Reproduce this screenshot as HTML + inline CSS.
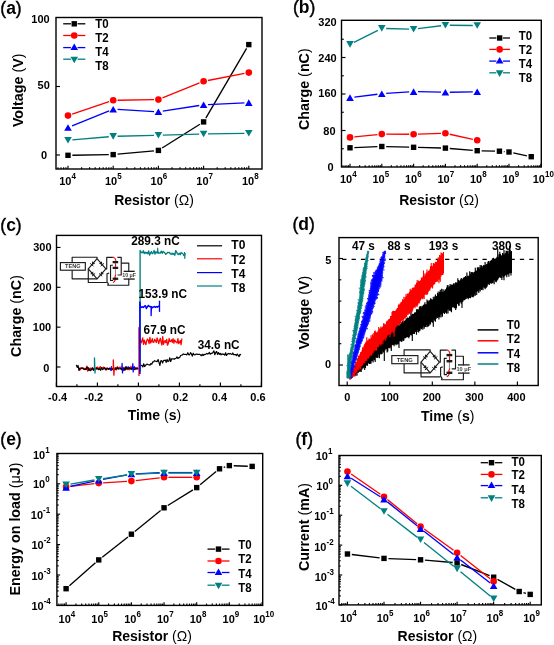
<!DOCTYPE html>
<html><head><meta charset="utf-8"><style>
html,body{margin:0;padding:0;background:#fff;width:554px;height:645px;overflow:hidden}
svg{display:block;filter:blur(0.35px)}
</style></head><body>
<svg width="554" height="645" viewBox="0 0 554 645">
<rect x="0" y="0" width="554" height="645" fill="#fff"/>
<text transform="translate(0.3,13.5) scale(1,1.0)" font-size="17.5" text-anchor="start" font-family="Liberation Sans" font-weight="bold" ><tspan font-weight="normal" stroke="#000" stroke-width="0.4">(</tspan>a<tspan font-weight="normal" stroke="#000" stroke-width="0.4">)</tspan></text>
<line x1="57.97" y1="169" x2="57.97" y2="167.2" stroke="#000" stroke-width="1.15"/>
<line x1="61" y1="169" x2="61" y2="167.2" stroke="#000" stroke-width="1.15"/>
<line x1="63.62" y1="169" x2="63.62" y2="167.2" stroke="#000" stroke-width="1.15"/>
<line x1="65.93" y1="169" x2="65.93" y2="167.2" stroke="#000" stroke-width="1.15"/>
<line x1="68" y1="169" x2="68" y2="165.8" stroke="#000" stroke-width="1.15"/>
<line x1="81.61" y1="169" x2="81.61" y2="167.2" stroke="#000" stroke-width="1.15"/>
<line x1="89.57" y1="169" x2="89.57" y2="167.2" stroke="#000" stroke-width="1.15"/>
<line x1="95.21" y1="169" x2="95.21" y2="167.2" stroke="#000" stroke-width="1.15"/>
<line x1="99.59" y1="169" x2="99.59" y2="167.2" stroke="#000" stroke-width="1.15"/>
<line x1="103.17" y1="169" x2="103.17" y2="167.2" stroke="#000" stroke-width="1.15"/>
<line x1="106.2" y1="169" x2="106.2" y2="167.2" stroke="#000" stroke-width="1.15"/>
<line x1="108.82" y1="169" x2="108.82" y2="167.2" stroke="#000" stroke-width="1.15"/>
<line x1="111.13" y1="169" x2="111.13" y2="167.2" stroke="#000" stroke-width="1.15"/>
<line x1="113.2" y1="169" x2="113.2" y2="165.8" stroke="#000" stroke-width="1.15"/>
<line x1="126.81" y1="169" x2="126.81" y2="167.2" stroke="#000" stroke-width="1.15"/>
<line x1="134.77" y1="169" x2="134.77" y2="167.2" stroke="#000" stroke-width="1.15"/>
<line x1="140.41" y1="169" x2="140.41" y2="167.2" stroke="#000" stroke-width="1.15"/>
<line x1="144.79" y1="169" x2="144.79" y2="167.2" stroke="#000" stroke-width="1.15"/>
<line x1="148.37" y1="169" x2="148.37" y2="167.2" stroke="#000" stroke-width="1.15"/>
<line x1="151.4" y1="169" x2="151.4" y2="167.2" stroke="#000" stroke-width="1.15"/>
<line x1="154.02" y1="169" x2="154.02" y2="167.2" stroke="#000" stroke-width="1.15"/>
<line x1="156.33" y1="169" x2="156.33" y2="167.2" stroke="#000" stroke-width="1.15"/>
<line x1="158.4" y1="169" x2="158.4" y2="165.8" stroke="#000" stroke-width="1.15"/>
<line x1="172.01" y1="169" x2="172.01" y2="167.2" stroke="#000" stroke-width="1.15"/>
<line x1="179.97" y1="169" x2="179.97" y2="167.2" stroke="#000" stroke-width="1.15"/>
<line x1="185.61" y1="169" x2="185.61" y2="167.2" stroke="#000" stroke-width="1.15"/>
<line x1="189.99" y1="169" x2="189.99" y2="167.2" stroke="#000" stroke-width="1.15"/>
<line x1="193.57" y1="169" x2="193.57" y2="167.2" stroke="#000" stroke-width="1.15"/>
<line x1="196.6" y1="169" x2="196.6" y2="167.2" stroke="#000" stroke-width="1.15"/>
<line x1="199.22" y1="169" x2="199.22" y2="167.2" stroke="#000" stroke-width="1.15"/>
<line x1="201.53" y1="169" x2="201.53" y2="167.2" stroke="#000" stroke-width="1.15"/>
<line x1="203.6" y1="169" x2="203.6" y2="165.8" stroke="#000" stroke-width="1.15"/>
<line x1="217.21" y1="169" x2="217.21" y2="167.2" stroke="#000" stroke-width="1.15"/>
<line x1="225.17" y1="169" x2="225.17" y2="167.2" stroke="#000" stroke-width="1.15"/>
<line x1="230.81" y1="169" x2="230.81" y2="167.2" stroke="#000" stroke-width="1.15"/>
<line x1="235.19" y1="169" x2="235.19" y2="167.2" stroke="#000" stroke-width="1.15"/>
<line x1="238.77" y1="169" x2="238.77" y2="167.2" stroke="#000" stroke-width="1.15"/>
<line x1="241.8" y1="169" x2="241.8" y2="167.2" stroke="#000" stroke-width="1.15"/>
<line x1="244.42" y1="169" x2="244.42" y2="167.2" stroke="#000" stroke-width="1.15"/>
<line x1="246.73" y1="169" x2="246.73" y2="167.2" stroke="#000" stroke-width="1.15"/>
<line x1="248.8" y1="169" x2="248.8" y2="165.8" stroke="#000" stroke-width="1.15"/>
<line x1="56" y1="155" x2="60" y2="155" stroke="#000" stroke-width="1.15"/>
<line x1="56" y1="86.5" x2="60" y2="86.5" stroke="#000" stroke-width="1.15"/>
<rect x="56" y="17.5" width="206" height="151.5" fill="none" stroke="#000" stroke-width="1.4"/>
<text transform="translate(40.5,23.01) scale(1,1.06)" font-size="11" text-anchor="middle" font-family="Liberation Sans" font-weight="bold" >100</text>
<text transform="translate(43.7,88.71) scale(1,1.06)" font-size="11" text-anchor="middle" font-family="Liberation Sans" font-weight="bold" >50</text>
<text transform="translate(44,158.71) scale(1,1.06)" font-size="11" text-anchor="middle" font-family="Liberation Sans" font-weight="bold" >0</text>
<text transform="translate(67.6,185.3) scale(1,1.06)" font-size="11" text-anchor="middle" font-family="Liberation Sans" font-weight="bold">10<tspan font-size="8" dy="-5.6">4</tspan></text>
<text transform="translate(113.27,185.3) scale(1,1.06)" font-size="11" text-anchor="middle" font-family="Liberation Sans" font-weight="bold">10<tspan font-size="8" dy="-5.6">5</tspan></text>
<text transform="translate(158.94,185.3) scale(1,1.06)" font-size="11" text-anchor="middle" font-family="Liberation Sans" font-weight="bold">10<tspan font-size="8" dy="-5.6">6</tspan></text>
<text transform="translate(204.61,185.3) scale(1,1.06)" font-size="11" text-anchor="middle" font-family="Liberation Sans" font-weight="bold">10<tspan font-size="8" dy="-5.6">7</tspan></text>
<text transform="translate(250.28,185.3) scale(1,1.06)" font-size="11" text-anchor="middle" font-family="Liberation Sans" font-weight="bold">10<tspan font-size="8" dy="-5.6">8</tspan></text>
<text transform="translate(154,204.7) scale(1,1.0)" font-size="14" text-anchor="middle" font-family="Liberation Sans" font-weight="bold" >Resistor <tspan font-weight="normal">(</tspan><tspan font-weight="normal">Ω</tspan><tspan font-weight="normal">)</tspan></text>
<text transform="translate(23.4,90.3) rotate(-90)" x="0" y="0" font-size="14.3" text-anchor="middle" font-family="Liberation Sans" font-weight="bold">Voltage <tspan font-weight="normal">(</tspan>V<tspan font-weight="normal">)</tspan></text>
<line x1="72.4" y1="155.23" x2="108.8" y2="154.67" stroke="#000" stroke-width="1.35"/>
<line x1="117.58" y1="154.19" x2="154.02" y2="150.81" stroke="#000" stroke-width="1.35"/>
<line x1="162.12" y1="148.05" x2="199.88" y2="124.25" stroke="#000" stroke-width="1.35"/>
<line x1="205.82" y1="118.1" x2="246.58" y2="48.4" stroke="#000" stroke-width="1.35"/>
<rect x="65.3" y="152.6" width="5.4" height="5.4" fill="#000"/>
<rect x="110.5" y="151.9" width="5.4" height="5.4" fill="#000"/>
<rect x="155.7" y="147.7" width="5.4" height="5.4" fill="#000"/>
<rect x="200.9" y="119.2" width="5.4" height="5.4" fill="#000"/>
<rect x="246.1" y="41.9" width="5.4" height="5.4" fill="#000"/>
<line x1="72.17" y1="114.19" x2="109.03" y2="101.71" stroke="#ff0000" stroke-width="1.35"/>
<line x1="117.6" y1="100.23" x2="154" y2="99.67" stroke="#ff0000" stroke-width="1.35"/>
<line x1="162.48" y1="97.95" x2="199.52" y2="82.95" stroke="#ff0000" stroke-width="1.35"/>
<line x1="207.92" y1="80.47" x2="244.48" y2="73.43" stroke="#ff0000" stroke-width="1.35"/>
<circle cx="68" cy="115.6" r="3.3" fill="#ff0000"/>
<circle cx="113.2" cy="100.3" r="3.3" fill="#ff0000"/>
<circle cx="158.4" cy="99.6" r="3.3" fill="#ff0000"/>
<circle cx="203.6" cy="81.3" r="3.3" fill="#ff0000"/>
<circle cx="248.8" cy="72.6" r="3.3" fill="#ff0000"/>
<line x1="72.08" y1="125.85" x2="109.12" y2="110.85" stroke="#0000ff" stroke-width="1.35"/>
<line x1="117.59" y1="109.45" x2="154.01" y2="111.55" stroke="#0000ff" stroke-width="1.35"/>
<line x1="162.75" y1="111.13" x2="199.25" y2="105.47" stroke="#0000ff" stroke-width="1.35"/>
<line x1="207.99" y1="104.59" x2="244.41" y2="102.81" stroke="#0000ff" stroke-width="1.35"/>
<polygon points="64.2,130.8 71.8,130.8 68,124.2" fill="#0000ff" stroke="none"/>
<polygon points="109.4,112.5 117,112.5 113.2,105.9" fill="#0000ff" stroke="none"/>
<polygon points="154.6,115.1 162.2,115.1 158.4,108.5" fill="#0000ff" stroke="none"/>
<polygon points="199.8,108.1 207.4,108.1 203.6,101.5" fill="#0000ff" stroke="none"/>
<polygon points="245,105.9 252.6,105.9 248.8,99.3" fill="#0000ff" stroke="none"/>
<line x1="72.38" y1="139.92" x2="108.82" y2="136.78" stroke="#008080" stroke-width="1.35"/>
<line x1="117.6" y1="136.28" x2="154" y2="135.32" stroke="#008080" stroke-width="1.35"/>
<line x1="162.8" y1="135.08" x2="199.2" y2="134.12" stroke="#008080" stroke-width="1.35"/>
<line x1="208" y1="133.93" x2="244.4" y2="133.37" stroke="#008080" stroke-width="1.35"/>
<polygon points="64.2,137 71.8,137 68,143.6" fill="#008080" stroke="none"/>
<polygon points="109.4,133.1 117,133.1 113.2,139.7" fill="#008080" stroke="none"/>
<polygon points="154.6,131.9 162.2,131.9 158.4,138.5" fill="#008080" stroke="none"/>
<polygon points="199.8,130.7 207.4,130.7 203.6,137.3" fill="#008080" stroke="none"/>
<polygon points="245,130 252.6,130 248.8,136.6" fill="#008080" stroke="none"/>
<line x1="63.2" y1="23.8" x2="70.95" y2="23.8" stroke="#000" stroke-width="1.3"/>
<line x1="77.55" y1="23.8" x2="85.3" y2="23.8" stroke="#000" stroke-width="1.3"/>
<rect x="71.55" y="21.1" width="5.4" height="5.4" fill="#000"/>
<text transform="translate(95.2,27.74) scale(1,1.06)" font-size="11.5" text-anchor="start" font-family="Liberation Sans" font-weight="bold" >T0</text>
<line x1="63.2" y1="35.5" x2="70.95" y2="35.5" stroke="#ff0000" stroke-width="1.3"/>
<line x1="77.55" y1="35.5" x2="85.3" y2="35.5" stroke="#ff0000" stroke-width="1.3"/>
<circle cx="74.25" cy="35.5" r="3.3" fill="#ff0000"/>
<text transform="translate(95.2,42.04) scale(1,1.06)" font-size="11.5" text-anchor="start" font-family="Liberation Sans" font-weight="bold" >T2</text>
<line x1="63.2" y1="47.6" x2="70.95" y2="47.6" stroke="#0000ff" stroke-width="1.3"/>
<line x1="77.55" y1="47.6" x2="85.3" y2="47.6" stroke="#0000ff" stroke-width="1.3"/>
<polygon points="70.45,50.1 78.05,50.1 74.25,43.5" fill="#0000ff" stroke="none"/>
<text transform="translate(95.2,56.34) scale(1,1.06)" font-size="11.5" text-anchor="start" font-family="Liberation Sans" font-weight="bold" >T4</text>
<line x1="63.2" y1="59.2" x2="70.95" y2="59.2" stroke="#008080" stroke-width="1.3"/>
<line x1="77.55" y1="59.2" x2="85.3" y2="59.2" stroke="#008080" stroke-width="1.3"/>
<polygon points="70.45,56.7 78.05,56.7 74.25,63.3" fill="#008080" stroke="none"/>
<text transform="translate(95.2,70.34) scale(1,1.06)" font-size="11.5" text-anchor="start" font-family="Liberation Sans" font-weight="bold" >T8</text>
<text transform="translate(293,13.3) scale(1,1.0)" font-size="17.5" text-anchor="start" font-family="Liberation Sans" font-weight="bold" ><tspan font-weight="normal" stroke="#000" stroke-width="0.4">(</tspan>b<tspan font-weight="normal" stroke="#000" stroke-width="0.4">)</tspan></text>
<line x1="342.95" y1="167" x2="342.95" y2="165.2" stroke="#000" stroke-width="1.15"/>
<line x1="345.07" y1="167" x2="345.07" y2="165.2" stroke="#000" stroke-width="1.15"/>
<line x1="346.92" y1="167" x2="346.92" y2="165.2" stroke="#000" stroke-width="1.15"/>
<line x1="348.54" y1="167" x2="348.54" y2="165.2" stroke="#000" stroke-width="1.15"/>
<line x1="350" y1="167" x2="350" y2="163.8" stroke="#000" stroke-width="1.15"/>
<line x1="359.57" y1="167" x2="359.57" y2="165.2" stroke="#000" stroke-width="1.15"/>
<line x1="365.17" y1="167" x2="365.17" y2="165.2" stroke="#000" stroke-width="1.15"/>
<line x1="369.15" y1="167" x2="369.15" y2="165.2" stroke="#000" stroke-width="1.15"/>
<line x1="372.23" y1="167" x2="372.23" y2="165.2" stroke="#000" stroke-width="1.15"/>
<line x1="374.75" y1="167" x2="374.75" y2="165.2" stroke="#000" stroke-width="1.15"/>
<line x1="376.87" y1="167" x2="376.87" y2="165.2" stroke="#000" stroke-width="1.15"/>
<line x1="378.72" y1="167" x2="378.72" y2="165.2" stroke="#000" stroke-width="1.15"/>
<line x1="380.34" y1="167" x2="380.34" y2="165.2" stroke="#000" stroke-width="1.15"/>
<line x1="381.8" y1="167" x2="381.8" y2="163.8" stroke="#000" stroke-width="1.15"/>
<line x1="391.37" y1="167" x2="391.37" y2="165.2" stroke="#000" stroke-width="1.15"/>
<line x1="396.97" y1="167" x2="396.97" y2="165.2" stroke="#000" stroke-width="1.15"/>
<line x1="400.95" y1="167" x2="400.95" y2="165.2" stroke="#000" stroke-width="1.15"/>
<line x1="404.03" y1="167" x2="404.03" y2="165.2" stroke="#000" stroke-width="1.15"/>
<line x1="406.55" y1="167" x2="406.55" y2="165.2" stroke="#000" stroke-width="1.15"/>
<line x1="408.67" y1="167" x2="408.67" y2="165.2" stroke="#000" stroke-width="1.15"/>
<line x1="410.52" y1="167" x2="410.52" y2="165.2" stroke="#000" stroke-width="1.15"/>
<line x1="412.14" y1="167" x2="412.14" y2="165.2" stroke="#000" stroke-width="1.15"/>
<line x1="413.6" y1="167" x2="413.6" y2="163.8" stroke="#000" stroke-width="1.15"/>
<line x1="423.17" y1="167" x2="423.17" y2="165.2" stroke="#000" stroke-width="1.15"/>
<line x1="428.77" y1="167" x2="428.77" y2="165.2" stroke="#000" stroke-width="1.15"/>
<line x1="432.75" y1="167" x2="432.75" y2="165.2" stroke="#000" stroke-width="1.15"/>
<line x1="435.83" y1="167" x2="435.83" y2="165.2" stroke="#000" stroke-width="1.15"/>
<line x1="438.35" y1="167" x2="438.35" y2="165.2" stroke="#000" stroke-width="1.15"/>
<line x1="440.47" y1="167" x2="440.47" y2="165.2" stroke="#000" stroke-width="1.15"/>
<line x1="442.32" y1="167" x2="442.32" y2="165.2" stroke="#000" stroke-width="1.15"/>
<line x1="443.94" y1="167" x2="443.94" y2="165.2" stroke="#000" stroke-width="1.15"/>
<line x1="445.4" y1="167" x2="445.4" y2="163.8" stroke="#000" stroke-width="1.15"/>
<line x1="454.97" y1="167" x2="454.97" y2="165.2" stroke="#000" stroke-width="1.15"/>
<line x1="460.57" y1="167" x2="460.57" y2="165.2" stroke="#000" stroke-width="1.15"/>
<line x1="464.55" y1="167" x2="464.55" y2="165.2" stroke="#000" stroke-width="1.15"/>
<line x1="467.63" y1="167" x2="467.63" y2="165.2" stroke="#000" stroke-width="1.15"/>
<line x1="470.15" y1="167" x2="470.15" y2="165.2" stroke="#000" stroke-width="1.15"/>
<line x1="472.27" y1="167" x2="472.27" y2="165.2" stroke="#000" stroke-width="1.15"/>
<line x1="474.12" y1="167" x2="474.12" y2="165.2" stroke="#000" stroke-width="1.15"/>
<line x1="475.74" y1="167" x2="475.74" y2="165.2" stroke="#000" stroke-width="1.15"/>
<line x1="477.2" y1="167" x2="477.2" y2="163.8" stroke="#000" stroke-width="1.15"/>
<line x1="486.77" y1="167" x2="486.77" y2="165.2" stroke="#000" stroke-width="1.15"/>
<line x1="492.37" y1="167" x2="492.37" y2="165.2" stroke="#000" stroke-width="1.15"/>
<line x1="496.35" y1="167" x2="496.35" y2="165.2" stroke="#000" stroke-width="1.15"/>
<line x1="499.43" y1="167" x2="499.43" y2="165.2" stroke="#000" stroke-width="1.15"/>
<line x1="501.95" y1="167" x2="501.95" y2="165.2" stroke="#000" stroke-width="1.15"/>
<line x1="504.07" y1="167" x2="504.07" y2="165.2" stroke="#000" stroke-width="1.15"/>
<line x1="505.92" y1="167" x2="505.92" y2="165.2" stroke="#000" stroke-width="1.15"/>
<line x1="507.54" y1="167" x2="507.54" y2="165.2" stroke="#000" stroke-width="1.15"/>
<line x1="509" y1="167" x2="509" y2="163.8" stroke="#000" stroke-width="1.15"/>
<line x1="518.57" y1="167" x2="518.57" y2="165.2" stroke="#000" stroke-width="1.15"/>
<line x1="524.17" y1="167" x2="524.17" y2="165.2" stroke="#000" stroke-width="1.15"/>
<line x1="528.15" y1="167" x2="528.15" y2="165.2" stroke="#000" stroke-width="1.15"/>
<line x1="531.23" y1="167" x2="531.23" y2="165.2" stroke="#000" stroke-width="1.15"/>
<line x1="533.75" y1="167" x2="533.75" y2="165.2" stroke="#000" stroke-width="1.15"/>
<line x1="535.87" y1="167" x2="535.87" y2="165.2" stroke="#000" stroke-width="1.15"/>
<line x1="537.72" y1="167" x2="537.72" y2="165.2" stroke="#000" stroke-width="1.15"/>
<line x1="539.34" y1="167" x2="539.34" y2="165.2" stroke="#000" stroke-width="1.15"/>
<line x1="540.8" y1="167" x2="540.8" y2="163.8" stroke="#000" stroke-width="1.15"/>
<line x1="341.5" y1="130.5" x2="345.5" y2="130.5" stroke="#000" stroke-width="1.15"/>
<line x1="341.5" y1="94" x2="345.5" y2="94" stroke="#000" stroke-width="1.15"/>
<line x1="341.5" y1="57.5" x2="345.5" y2="57.5" stroke="#000" stroke-width="1.15"/>
<line x1="341.5" y1="148.75" x2="343.8" y2="148.75" stroke="#000" stroke-width="1.15"/>
<line x1="341.5" y1="112.25" x2="343.8" y2="112.25" stroke="#000" stroke-width="1.15"/>
<line x1="341.5" y1="75.75" x2="343.8" y2="75.75" stroke="#000" stroke-width="1.15"/>
<line x1="341.5" y1="39.25" x2="343.8" y2="39.25" stroke="#000" stroke-width="1.15"/>
<rect x="341.5" y="20.3" width="199.8" height="146.7" fill="none" stroke="#000" stroke-width="1.4"/>
<text transform="translate(327.5,25.96) scale(1,1.06)" font-size="11" text-anchor="middle" font-family="Liberation Sans" font-weight="bold" >320</text>
<text transform="translate(327.5,61.76) scale(1,1.06)" font-size="11" text-anchor="middle" font-family="Liberation Sans" font-weight="bold" >240</text>
<text transform="translate(327.5,97.16) scale(1,1.06)" font-size="11" text-anchor="middle" font-family="Liberation Sans" font-weight="bold" >160</text>
<text transform="translate(329.4,135.16) scale(1,1.06)" font-size="11" text-anchor="middle" font-family="Liberation Sans" font-weight="bold" >80</text>
<text transform="translate(330.5,170.66) scale(1,1.06)" font-size="11" text-anchor="middle" font-family="Liberation Sans" font-weight="bold" >0</text>
<text transform="translate(348.3,183.3) scale(1,1.06)" font-size="11" text-anchor="middle" font-family="Liberation Sans" font-weight="bold">10<tspan font-size="8" dy="-5.6">4</tspan></text>
<text transform="translate(380.8,183.3) scale(1,1.06)" font-size="11" text-anchor="middle" font-family="Liberation Sans" font-weight="bold">10<tspan font-size="8" dy="-5.6">5</tspan></text>
<text transform="translate(413.3,183.3) scale(1,1.06)" font-size="11" text-anchor="middle" font-family="Liberation Sans" font-weight="bold">10<tspan font-size="8" dy="-5.6">6</tspan></text>
<text transform="translate(445.8,183.3) scale(1,1.06)" font-size="11" text-anchor="middle" font-family="Liberation Sans" font-weight="bold">10<tspan font-size="8" dy="-5.6">7</tspan></text>
<text transform="translate(478.3,183.3) scale(1,1.06)" font-size="11" text-anchor="middle" font-family="Liberation Sans" font-weight="bold">10<tspan font-size="8" dy="-5.6">8</tspan></text>
<text transform="translate(510.8,183.3) scale(1,1.06)" font-size="11" text-anchor="middle" font-family="Liberation Sans" font-weight="bold">10<tspan font-size="8" dy="-5.6">9</tspan></text>
<text transform="translate(543.3,183.3) scale(1,1.06)" font-size="11" text-anchor="middle" font-family="Liberation Sans" font-weight="bold">10<tspan font-size="8" dy="-5.6">10</tspan></text>
<text transform="translate(439,204.7) scale(1,1.0)" font-size="14" text-anchor="middle" font-family="Liberation Sans" font-weight="bold" >Resistor <tspan font-weight="normal">(</tspan><tspan font-weight="normal">Ω</tspan><tspan font-weight="normal">)</tspan></text>
<text transform="translate(308.9,89.2) rotate(-90)" x="0" y="0" font-size="14.3" text-anchor="middle" font-family="Liberation Sans" font-weight="bold">Charge <tspan font-weight="normal">(</tspan>nC<tspan font-weight="normal">)</tspan></text>
<line x1="353.93" y1="42.42" x2="377.87" y2="30.38" stroke="#008080" stroke-width="1.35"/>
<line x1="386.2" y1="28.51" x2="409.2" y2="29.09" stroke="#008080" stroke-width="1.35"/>
<line x1="417.97" y1="28.65" x2="441.03" y2="25.75" stroke="#008080" stroke-width="1.35"/>
<line x1="449.8" y1="25.24" x2="472.8" y2="25.46" stroke="#008080" stroke-width="1.35"/>
<polygon points="346.2,41.1 353.8,41.1 350,47.7" fill="#008080" stroke="none"/>
<polygon points="378,25.1 385.6,25.1 381.8,31.7" fill="#008080" stroke="none"/>
<polygon points="409.8,25.9 417.4,25.9 413.6,32.5" fill="#008080" stroke="none"/>
<polygon points="441.6,21.9 449.2,21.9 445.4,28.5" fill="#008080" stroke="none"/>
<polygon points="473.4,22.2 481,22.2 477.2,28.8" fill="#008080" stroke="none"/>
<line x1="354.37" y1="97.06" x2="377.43" y2="94.24" stroke="#0000ff" stroke-width="1.35"/>
<line x1="386.19" y1="93.41" x2="409.21" y2="91.89" stroke="#0000ff" stroke-width="1.35"/>
<line x1="418" y1="91.7" x2="441" y2="92.2" stroke="#0000ff" stroke-width="1.35"/>
<line x1="449.8" y1="92.23" x2="472.8" y2="91.87" stroke="#0000ff" stroke-width="1.35"/>
<polygon points="346.2,100.9 353.8,100.9 350,94.3" fill="#0000ff" stroke="none"/>
<polygon points="378,97 385.6,97 381.8,90.4" fill="#0000ff" stroke="none"/>
<polygon points="409.8,94.9 417.4,94.9 413.6,88.3" fill="#0000ff" stroke="none"/>
<polygon points="441.6,95.6 449.2,95.6 445.4,89" fill="#0000ff" stroke="none"/>
<polygon points="473.4,95.1 481,95.1 477.2,88.5" fill="#0000ff" stroke="none"/>
<line x1="354.38" y1="136.95" x2="377.42" y2="134.55" stroke="#ff0000" stroke-width="1.35"/>
<line x1="386.2" y1="134.13" x2="409.2" y2="134.27" stroke="#ff0000" stroke-width="1.35"/>
<line x1="418" y1="134.16" x2="441" y2="133.44" stroke="#ff0000" stroke-width="1.35"/>
<line x1="449.7" y1="134.25" x2="472.9" y2="139.35" stroke="#ff0000" stroke-width="1.35"/>
<circle cx="350" cy="137.4" r="3.3" fill="#ff0000"/>
<circle cx="381.8" cy="134.1" r="3.3" fill="#ff0000"/>
<circle cx="413.6" cy="134.3" r="3.3" fill="#ff0000"/>
<circle cx="445.4" cy="133.3" r="3.3" fill="#ff0000"/>
<circle cx="477.2" cy="140.3" r="3.3" fill="#ff0000"/>
<line x1="354.4" y1="147.62" x2="377.4" y2="146.68" stroke="#000" stroke-width="1.35"/>
<line x1="386.2" y1="146.61" x2="409.2" y2="147.19" stroke="#000" stroke-width="1.35"/>
<line x1="418" y1="147.41" x2="441" y2="147.99" stroke="#000" stroke-width="1.35"/>
<line x1="449.79" y1="148.46" x2="472.81" y2="150.34" stroke="#000" stroke-width="1.35"/>
<line x1="481.6" y1="150.8" x2="495.03" y2="151.1" stroke="#000" stroke-width="1.35"/>
<line x1="503.81" y1="151.57" x2="504.62" y2="151.63" stroke="#000" stroke-width="1.35"/>
<line x1="513.3" y1="152.91" x2="526.92" y2="155.79" stroke="#000" stroke-width="1.35"/>
<rect x="347.3" y="145.1" width="5.4" height="5.4" fill="#000"/>
<rect x="379.1" y="143.8" width="5.4" height="5.4" fill="#000"/>
<rect x="410.9" y="144.6" width="5.4" height="5.4" fill="#000"/>
<rect x="442.7" y="145.4" width="5.4" height="5.4" fill="#000"/>
<rect x="474.5" y="148" width="5.4" height="5.4" fill="#000"/>
<rect x="496.73" y="148.5" width="5.4" height="5.4" fill="#000"/>
<rect x="506.3" y="149.3" width="5.4" height="5.4" fill="#000"/>
<rect x="528.53" y="154" width="5.4" height="5.4" fill="#000"/>
<line x1="489.3" y1="38" x2="496.35" y2="38" stroke="#000" stroke-width="1.3"/>
<line x1="502.95" y1="38" x2="510" y2="38" stroke="#000" stroke-width="1.3"/>
<rect x="496.95" y="35.3" width="5.4" height="5.4" fill="#000"/>
<text transform="translate(518.7,39.74) scale(1,1.06)" font-size="11.5" text-anchor="start" font-family="Liberation Sans" font-weight="bold" >T0</text>
<line x1="489.3" y1="49.4" x2="496.35" y2="49.4" stroke="#ff0000" stroke-width="1.3"/>
<line x1="502.95" y1="49.4" x2="510" y2="49.4" stroke="#ff0000" stroke-width="1.3"/>
<circle cx="499.65" cy="49.4" r="3.3" fill="#ff0000"/>
<text transform="translate(518.7,54.04) scale(1,1.06)" font-size="11.5" text-anchor="start" font-family="Liberation Sans" font-weight="bold" >T2</text>
<line x1="489.3" y1="61.1" x2="496.35" y2="61.1" stroke="#0000ff" stroke-width="1.3"/>
<line x1="502.95" y1="61.1" x2="510" y2="61.1" stroke="#0000ff" stroke-width="1.3"/>
<polygon points="495.85,63.6 503.45,63.6 499.65,57" fill="#0000ff" stroke="none"/>
<text transform="translate(518.7,68.14) scale(1,1.06)" font-size="11.5" text-anchor="start" font-family="Liberation Sans" font-weight="bold" >T4</text>
<line x1="489.3" y1="72.8" x2="496.35" y2="72.8" stroke="#008080" stroke-width="1.3"/>
<line x1="502.95" y1="72.8" x2="510" y2="72.8" stroke="#008080" stroke-width="1.3"/>
<polygon points="495.85,70.3 503.45,70.3 499.65,76.9" fill="#008080" stroke="none"/>
<text transform="translate(518.7,82.14) scale(1,1.06)" font-size="11.5" text-anchor="start" font-family="Liberation Sans" font-weight="bold" >T8</text>
<text transform="translate(0.3,230.5) scale(1,1.0)" font-size="17.5" text-anchor="start" font-family="Liberation Sans" font-weight="bold" ><tspan font-weight="normal" stroke="#000" stroke-width="0.4">(</tspan>c<tspan font-weight="normal" stroke="#000" stroke-width="0.4">)</tspan></text>
<rect x="56.5" y="235.4" width="205" height="151.1" fill="none" stroke="#000" stroke-width="1.4"/>
<line x1="56.5" y1="367" x2="60.5" y2="367" stroke="#000" stroke-width="1.15"/>
<line x1="56.5" y1="327.15" x2="60.5" y2="327.15" stroke="#000" stroke-width="1.15"/>
<line x1="56.5" y1="287.3" x2="60.5" y2="287.3" stroke="#000" stroke-width="1.15"/>
<line x1="56.5" y1="247.45" x2="60.5" y2="247.45" stroke="#000" stroke-width="1.15"/>
<line x1="56.4" y1="386.5" x2="56.4" y2="382.5" stroke="#000" stroke-width="1.15"/>
<line x1="97.4" y1="386.5" x2="97.4" y2="382.5" stroke="#000" stroke-width="1.15"/>
<line x1="138.4" y1="386.5" x2="138.4" y2="382.5" stroke="#000" stroke-width="1.15"/>
<line x1="179.4" y1="386.5" x2="179.4" y2="382.5" stroke="#000" stroke-width="1.15"/>
<line x1="220.4" y1="386.5" x2="220.4" y2="382.5" stroke="#000" stroke-width="1.15"/>
<line x1="261.4" y1="386.5" x2="261.4" y2="382.5" stroke="#000" stroke-width="1.15"/>
<line x1="76.9" y1="386.5" x2="76.9" y2="384.2" stroke="#000" stroke-width="1.15"/>
<line x1="117.9" y1="386.5" x2="117.9" y2="384.2" stroke="#000" stroke-width="1.15"/>
<line x1="158.9" y1="386.5" x2="158.9" y2="384.2" stroke="#000" stroke-width="1.15"/>
<line x1="199.9" y1="386.5" x2="199.9" y2="384.2" stroke="#000" stroke-width="1.15"/>
<line x1="240.9" y1="386.5" x2="240.9" y2="384.2" stroke="#000" stroke-width="1.15"/>
<text transform="translate(42.4,251.06) scale(1,1.06)" font-size="11" text-anchor="middle" font-family="Liberation Sans" font-weight="bold" >300</text>
<text transform="translate(42.4,290.86) scale(1,1.06)" font-size="11" text-anchor="middle" font-family="Liberation Sans" font-weight="bold" >200</text>
<text transform="translate(42,331.06) scale(1,1.06)" font-size="11" text-anchor="middle" font-family="Liberation Sans" font-weight="bold" >100</text>
<text transform="translate(46.4,371.96) scale(1,1.06)" font-size="11" text-anchor="middle" font-family="Liberation Sans" font-weight="bold" >0</text>
<text transform="translate(57.6,400.76) scale(1,1.06)" font-size="11" text-anchor="middle" font-family="Liberation Sans" font-weight="bold" >-0.4</text>
<text transform="translate(93.7,400.76) scale(1,1.06)" font-size="11" text-anchor="middle" font-family="Liberation Sans" font-weight="bold" >-0.2</text>
<text transform="translate(138.7,400.76) scale(1,1.06)" font-size="11" text-anchor="middle" font-family="Liberation Sans" font-weight="bold" >0</text>
<text transform="translate(180.5,400.76) scale(1,1.06)" font-size="11" text-anchor="middle" font-family="Liberation Sans" font-weight="bold" >0.2</text>
<text transform="translate(219.4,400.76) scale(1,1.06)" font-size="11" text-anchor="middle" font-family="Liberation Sans" font-weight="bold" >0.4</text>
<text transform="translate(258,400.76) scale(1,1.06)" font-size="11" text-anchor="middle" font-family="Liberation Sans" font-weight="bold" >0.6</text>
<text transform="translate(154.4,420.3) scale(1,1.0)" font-size="14" text-anchor="middle" font-family="Liberation Sans" font-weight="bold" >Time <tspan font-weight="normal">(</tspan>s<tspan font-weight="normal">)</tspan></text>
<text transform="translate(20.6,316) rotate(-90)" x="0" y="0" font-size="14.3" text-anchor="middle" font-family="Liberation Sans" font-weight="bold">Charge <tspan font-weight="normal">(</tspan>nC<tspan font-weight="normal">)</tspan></text>
<polyline points="78.7,368.64 79.6,370.15 80.5,369.54 81.4,367.73 82.3,368.52 83.2,368.02 84.1,369.43 85,368.29 85.9,369.55 86.8,366.19 87.7,371.12 88.6,367.73 89.5,369.64 90.4,368.13 91.3,368.31 92.2,369.22 93.1,369.36 94,368.14 94.9,368.56 95.8,369.4 96.7,367.36 97.6,367.23 98.5,369.46 99.4,367.57 100.3,366.7 101.2,368.23 102.1,368.17 103,367.36 103.9,367.26 104.8,369.04 105.7,369.5 106.6,368.06 107.5,367.91 108.4,369.25 109.3,369.23 110.2,368.07 111.1,369.39 112,369.56 112.9,368.07 113.8,367.82 114.7,369.23 115.6,368.69 116.5,369.83 117.4,366.75 118.3,368.39 119.2,367.7 120.1,366.88 121,369.26 121.9,369.01 122.8,367.63 123.7,370.48 124.6,368.98 125.5,369.21 126.4,368.88 127.3,369.61 128.2,366.76 129.1,369.86 130,368.92 130.9,366.47 131.8,369.64 132.7,368 133.6,369.68 134.5,367.77 135.4,368.83 136.3,368.93 137.2,367.49 138.1,369.62" fill="none" stroke="#ff0000" stroke-width="1.3" stroke-linejoin="round" />
<polyline points="121,368.19 122.1,369.02 123.2,368.53 124.3,368.67 125.4,369.33 126.5,366.92 127.6,368.09 128.7,367.2 129.8,368.42 130.9,368.92 132,367.97 133.1,368.66 134.2,366.56 135.3,368.81 136.4,367.31" fill="none" stroke="#0000ff" stroke-width="1.3" stroke-linejoin="round" />
<polyline points="76.3,364.84 77.2,367.41 78.1,365.49 79,370.36 79.9,368.03 80.8,368.26 81.7,368.21 82.6,367.96 83.5,368.84 84.4,369.57 85.3,369.12 86.2,369.3 87.1,367.05 88,367.85 88.9,370.55 89.8,369.19 90.7,370.74 91.6,369.36 92.5,367.67 93.4,370.35 94.3,368.93 95.2,368.96 96.1,367.98 97,369.05 97.9,368.59 98.8,369.7 99.7,368.65 100.6,370.34 101.5,367.61 102.4,369.6 103.3,369.03 104.2,367.92 105.1,367.95 106,370.01 106.9,368.92 107.8,368.61 108.7,369.23 109.6,368.04 110.5,369.25 111.4,368.09 112.3,369.19 113.2,369.61 114.1,368.24 115,369.77 115.9,367.54 116.8,368.91 117.7,367.48 118.6,369.1 119.5,368.78 120.4,368.62 121.3,368.6 122.2,370.12 123.1,369.74 124,367.37 124.9,370.33 125.8,366.72 126.7,368.73 127.6,368.66 128.5,368.95 129.4,367.77 130.3,368.43 131.2,368.98 132.1,368.09 133,368.41 133.9,369.54 134.8,369.45 135.7,368.55 136.6,368.89 137.5,368.75 138.4,368.39" fill="none" stroke="#000" stroke-width="1.2" stroke-linejoin="round" />
<polyline points="94.5,368 94.5,357.9 95,373 95.4,368" fill="none" stroke="#008080" stroke-width="1.3" stroke-linejoin="round" />
<polyline points="113.3,368 113.3,360 113.9,375.2 114.3,368" fill="none" stroke="#ff0000" stroke-width="1.3" stroke-linejoin="round" />
<polyline points="121.8,368 122.1,363.3 122.5,373 122.9,368" fill="none" stroke="#0000ff" stroke-width="1.2" stroke-linejoin="round" />
<polyline points="132.5,368 132.8,363.5 133.2,372 133.5,368" fill="none" stroke="#0000ff" stroke-width="1.2" stroke-linejoin="round" />
<polyline points="110.8,368 111.1,371 111.4,366" fill="none" stroke="#0000ff" stroke-width="1.0" stroke-linejoin="round" />
<polyline points="139.2,365.43 140.1,365.72 141,365.25 141.9,365.66 142.8,366.97 143.7,363.74 144.6,366.54 145.5,365.67 146.4,364.28 147.3,364.11 148.2,364.77 149.1,364.78 150,365.14 150.9,363.55 151.8,364.19 152.7,361.87 153.6,361.79 154.5,360.68 155.4,361.07 156.3,361.34 157.2,361.62 158.1,359.5 159,362.33 159.9,365.5 160.8,360.78 161.7,360.63 162.6,362.93 163.5,360.62 164.4,360.3 165.3,360.16 166.2,362.33 167.1,359.45 168,361.58 168.9,360.93 169.8,357.78 170.7,361.59 171.6,358.93 172.5,358.76 173.4,358.84 174.3,359.25 175.2,358.48 176.1,358.27 177,356.88 177.9,358.49 178.8,357.71 179.7,357.63 180.6,355.53 181.5,355.23 182.4,354.91 183.3,353.91 184.2,354.52 185.1,354.25 186,354.47 186.9,354.82 187.8,352.72 188.7,354.67 189.6,354.86 190.5,352.66 191.4,353.9 192.3,356.08 193.2,353.24 194.1,354.61 195,354.92 195.9,354.14 196.8,354.08 197.7,354.41 198.6,354.4 199.5,354.29 200.4,354.84 201.3,355.72 202.2,354.25 203.1,355.6 204,354.3 204.9,354.62 205.8,354.16 206.7,353.4 207.6,354.08 208.5,353.62 209.4,352.42 210.3,354.19 211.2,353.36 212.1,353.28 213,352.38 213.9,350.76 214.8,354.76 215.7,352.43 216.6,351.53 217.5,354.32 218.4,352.51 219.3,354.37 220.2,353.31 221.1,354.82 222,353.77 222.9,354.28 223.8,354.18 224.7,355.19 225.6,352.73 226.5,355.47 227.4,354.17 228.3,353.45 229.2,354.06 230.1,353.43 231,353.97 231.9,354.48 232.8,352.94 233.7,354.73 234.6,354.54 235.5,354.53 236.4,355.49 237.3,354.02 238.2,355.28 239.1,356.58 240,354.32 240.9,355.04" fill="none" stroke="#000" stroke-width="1.2" stroke-linejoin="round" />
<polyline points="139,376 138.9,327.6 139.5,342.07 140.3,339.7 141.1,342.94 141.9,340.77 142.7,337.88 143.5,344.39 144.3,340.03 145.1,342.91 145.9,344.72 146.7,340.73 147.5,338.98 148.3,340.37 149.1,343.68 149.9,337.26 150.7,342.96 151.5,341.5 152.3,338.59 153.1,342.36 153.9,342.07 154.7,339.24 155.5,340.73 156.3,342.53 157.1,337.95 157.9,340.24 158.7,343.58 159.5,340.67 160.3,338.25 161.1,342.11 161.9,345.19 162.7,336.68 163.5,344.35 164.3,341.92 165.1,340.6 165.9,342.71 166.7,339.27 167.5,345.17 168.3,343.78 169.1,338.49 169.9,341.54 170.7,341.39 171.5,339.77 172.3,342.4 173.1,338.56 173.9,343.26 174.7,339.92 175.5,341.48 176.3,342.15 177.1,342.95 177.9,338.52 178.7,343.74 179.5,342.37 180.3,340.6 181.1,344.76 181.9,338.46" fill="none" stroke="#ff0000" stroke-width="1.25" stroke-linejoin="round" />
<polyline points="140.1,372 140.1,250.5 140.6,251.55 141.5,252.53 142.4,252.71 143.3,250.82 144.2,253.54 145.1,252.16 146,253.27 146.9,252.38 147.8,253.78 148.7,250.89 149.6,255.08 150.5,253.19 151.4,251.65 152.3,253.68 153.2,252.87 154.1,250.54 155,254.11 155.9,251.68 156.8,252.87 157.7,252.15 158.6,252.64 159.5,253.15 160.4,253.08 161.3,251.15 162.2,253.32 163.1,251.41 164,252.11 164.9,253.05 165.8,254.25 166.7,253.66 167.6,252.39 168.5,252.69 169.4,252.5 170.3,253.76 171.2,254.37 172.1,253.12 173,254.35 173.9,253.57 174.8,255.27 175.7,250.63 176.6,251.98 177.5,254.01 178.4,254.53 179.3,253.23 180.2,254.74 181.1,252.48 182,253.17 182.9,253.74 183.8,255.56 184.7,254.95" fill="none" stroke="#008080" stroke-width="1.35" stroke-linejoin="round" />
<polyline points="157.5,253 157.7,248 158.1,254" fill="none" stroke="#008080" stroke-width="1.1" stroke-linejoin="round" />
<polyline points="184.5,252 184.8,258.5 185.2,253" fill="none" stroke="#008080" stroke-width="1.1" stroke-linejoin="round" />
<polyline points="139.9,374 139.9,302 140.4,307.57 141.4,307.25 142.4,306.78 143.4,307.41 144.4,306.27 145.4,305.75 146.4,308.47 147.4,306.78 148.4,305.43 149.4,306.57 150.4,306.55 151.4,307.26 152.4,307.76 153.4,306.87 154.4,306.59 155.4,307.33 156.4,306.61 157.4,307.12 158.4,306.35 159.4,306.18" fill="none" stroke="#0000ff" stroke-width="1.5" stroke-linejoin="round" />
<polyline points="151.1,306 151.1,315.6 151.5,306" fill="none" stroke="#0000ff" stroke-width="1.3" stroke-linejoin="round" />
<polyline points="159.5,300.7 159.5,311.9" fill="none" stroke="#0000ff" stroke-width="1.3" stroke-linejoin="round" />
<text transform="translate(131.2,245.25) scale(1,1.06)" font-size="11.8" text-anchor="start" font-family="Liberation Sans" font-weight="bold" >289.3 nC</text>
<text transform="translate(138.5,298.05) scale(1,1.06)" font-size="11.8" text-anchor="start" font-family="Liberation Sans" font-weight="bold" >153.9 nC</text>
<text transform="translate(143.6,334.35) scale(1,1.06)" font-size="11.8" text-anchor="start" font-family="Liberation Sans" font-weight="bold" >67.9 nC</text>
<text transform="translate(197.7,348.75) scale(1,1.06)" font-size="11.8" text-anchor="start" font-family="Liberation Sans" font-weight="bold" >34.6 nC</text>
<line x1="197" y1="245.8" x2="222.1" y2="245.8" stroke="#000" stroke-width="1.2"/>
<text transform="translate(231.3,249.42) scale(1,1.06)" font-size="12" text-anchor="start" font-family="Liberation Sans" font-weight="bold" >T0</text>
<line x1="197" y1="258.8" x2="222.1" y2="258.8" stroke="#ff0000" stroke-width="1.2"/>
<text transform="translate(231.3,263.52) scale(1,1.06)" font-size="12" text-anchor="start" font-family="Liberation Sans" font-weight="bold" >T2</text>
<line x1="197" y1="272.6" x2="222.1" y2="272.6" stroke="#0000ff" stroke-width="1.2"/>
<text transform="translate(231.3,278.22) scale(1,1.06)" font-size="12" text-anchor="start" font-family="Liberation Sans" font-weight="bold" >T4</text>
<line x1="197" y1="286" x2="222.1" y2="286" stroke="#008080" stroke-width="1.2"/>
<text transform="translate(231.3,292.32) scale(1,1.06)" font-size="12" text-anchor="start" font-family="Liberation Sans" font-weight="bold" >T8</text>
<rect x="60.4" y="262.6" width="24.93" height="7.61" fill="#fff" stroke="#1a1a1a" stroke-width="1.15"/>
<text x="72.81" y="268.43" font-size="5.54" text-anchor="middle" font-family="Liberation Sans" font-weight="bold" fill="#333">TENG</text>
<polyline points="72.15,262.6 72.15,257.24 97.07,257.24 97.07,258.65" fill="none" stroke="#1a1a1a" stroke-width="1.15" stroke-linejoin="round" />
<polyline points="72.15,270.21 72.15,278.86 97.07,278.86" fill="none" stroke="#1a1a1a" stroke-width="1.15" stroke-linejoin="round" />
<polyline points="97.07,258.65 88.29,268.8 97.07,278.86 105.86,268.8 97.07,258.65" fill="none" stroke="#1a1a1a" stroke-width="1.15" stroke-linejoin="round" />
<polygon points="92.22,261.36 95.12,263.8 91.81,264.73" fill="#1a1a1a" stroke="none"/>
<polyline points="90.21,263.39 93.41,266.07" fill="none" stroke="#1a1a1a" stroke-width="1.0" stroke-linejoin="round" />
<polygon points="90.23,273.92 93.13,271.47 93.55,274.83" fill="#1a1a1a" stroke="none"/>
<polyline points="91.96,276.18 95.14,273.48" fill="none" stroke="#1a1a1a" stroke-width="1.0" stroke-linejoin="round" />
<polygon points="99.02,263.8 101.93,261.36 102.33,264.73" fill="#1a1a1a" stroke="none"/>
<polyline points="100.73,266.07 103.93,263.39" fill="none" stroke="#1a1a1a" stroke-width="1.0" stroke-linejoin="round" />
<polygon points="101.01,271.47 103.91,273.92 100.59,274.83" fill="#1a1a1a" stroke="none"/>
<polyline points="99,273.48 102.19,276.18" fill="none" stroke="#1a1a1a" stroke-width="1.0" stroke-linejoin="round" />
<polyline points="88.29,268.8 88.29,282.53 106.81,282.53" fill="none" stroke="#1a1a1a" stroke-width="1.15" stroke-linejoin="round" />
<polyline points="105.86,268.8 106.72,268.8 106.72,257.43 112.92,257.43" fill="none" stroke="#1a1a1a" stroke-width="1.15" stroke-linejoin="round" />
<polyline points="117.41,257.43 121.23,257.43 121.23,275.01 117.6,275.01" fill="none" stroke="#1a1a1a" stroke-width="1.15" stroke-linejoin="round" />
<polyline points="121.23,263.16 128.78,263.16 128.78,271.62" fill="none" stroke="#1a1a1a" stroke-width="1.15" stroke-linejoin="round" />
<polyline points="123.62,271.34 134.7,271.34" fill="none" stroke="#1a1a1a" stroke-width="1.3" stroke-linejoin="round" />
<polyline points="123.62,279.05 134.7,279.05" fill="none" stroke="#1a1a1a" stroke-width="1.3" stroke-linejoin="round" />
<polyline points="128.78,278.77 128.78,285.25 107.48,285.25" fill="none" stroke="#1a1a1a" stroke-width="1.15" stroke-linejoin="round" />
<polyline points="112.92,265.23 110.54,265.23 110.54,280.46 113.12,280.46" fill="none" stroke="#1a1a1a" stroke-width="1.15" stroke-linejoin="round" />
<polyline points="109.1,273.03 107,273.88 107,281.87 108.44,284.03 107.48,285.25" fill="none" stroke="#1a1a1a" stroke-width="1.15" stroke-linejoin="round" />
<rect x="112.64" y="261" width="5.54" height="2.26" fill="#1a1a1a"/>
<polyline points="115.41,260.63 115.41,263.63" fill="none" stroke="#1a1a1a" stroke-width="0.8" stroke-linejoin="round" />
<rect x="112.64" y="266.74" width="5.54" height="2.26" fill="#1a1a1a"/>
<polyline points="115.41,266.36 115.41,269.37" fill="none" stroke="#1a1a1a" stroke-width="0.8" stroke-linejoin="round" />
<rect x="112.64" y="277.64" width="5.54" height="2.26" fill="#1a1a1a"/>
<polyline points="115.41,277.26 115.41,280.27" fill="none" stroke="#1a1a1a" stroke-width="0.8" stroke-linejoin="round" />
<polyline points="115.41,269.56 115.41,274.35" fill="none" stroke="#555" stroke-width="0.7" stroke-linejoin="round" />
<text x="129.16" y="277.08" font-size="5.35" text-anchor="middle" font-family="Liberation Sans" font-weight="bold" fill="#444">10 μF</text>
<polyline points="112.92,257.05 115.03,258.37 116.08,260.81" fill="none" stroke="#ff0000" stroke-width="1.1" stroke-linejoin="round" />
<polyline points="115.41,263.54 115.69,265.42 115.41,266.92" fill="none" stroke="#ff0000" stroke-width="1.1" stroke-linejoin="round" />
<polyline points="115.79,274.35 115.22,276.23 114.45,277.73" fill="none" stroke="#ff0000" stroke-width="1.1" stroke-linejoin="round" />
<polyline points="115.03,279.99 114.36,281.59 112.92,282.53" fill="none" stroke="#ff0000" stroke-width="1.1" stroke-linejoin="round" />
<text transform="translate(292.5,229.8) scale(1,1.0)" font-size="17.5" text-anchor="start" font-family="Liberation Sans" font-weight="bold" ><tspan font-weight="normal" stroke="#000" stroke-width="0.4">(</tspan>d<tspan font-weight="normal" stroke="#000" stroke-width="0.4">)</tspan></text>
<rect x="339" y="237.6" width="199.2" height="147.9" fill="none" stroke="#000" stroke-width="1.4"/>
<line x1="339" y1="365" x2="343" y2="365" stroke="#000" stroke-width="1.15"/>
<line x1="339" y1="258.5" x2="343" y2="258.5" stroke="#000" stroke-width="1.15"/>
<line x1="339" y1="343.7" x2="341.3" y2="343.7" stroke="#000" stroke-width="1.15"/>
<line x1="339" y1="322.4" x2="341.3" y2="322.4" stroke="#000" stroke-width="1.15"/>
<line x1="339" y1="301.1" x2="341.3" y2="301.1" stroke="#000" stroke-width="1.15"/>
<line x1="339" y1="279.8" x2="341.3" y2="279.8" stroke="#000" stroke-width="1.15"/>
<line x1="347.2" y1="385.5" x2="347.2" y2="381.5" stroke="#000" stroke-width="1.15"/>
<line x1="389.75" y1="385.5" x2="389.75" y2="381.5" stroke="#000" stroke-width="1.15"/>
<line x1="432.3" y1="385.5" x2="432.3" y2="381.5" stroke="#000" stroke-width="1.15"/>
<line x1="474.85" y1="385.5" x2="474.85" y2="381.5" stroke="#000" stroke-width="1.15"/>
<line x1="517.4" y1="385.5" x2="517.4" y2="381.5" stroke="#000" stroke-width="1.15"/>
<text transform="translate(328.4,263.56) scale(1,1.06)" font-size="11" text-anchor="middle" font-family="Liberation Sans" font-weight="bold" >5</text>
<text transform="translate(328,368.46) scale(1,1.06)" font-size="11" text-anchor="middle" font-family="Liberation Sans" font-weight="bold" >0</text>
<text transform="translate(347.2,400.96) scale(1,1.06)" font-size="11" text-anchor="middle" font-family="Liberation Sans" font-weight="bold" >0</text>
<text transform="translate(389.8,400.96) scale(1,1.06)" font-size="11" text-anchor="middle" font-family="Liberation Sans" font-weight="bold" >100</text>
<text transform="translate(431.8,400.96) scale(1,1.06)" font-size="11" text-anchor="middle" font-family="Liberation Sans" font-weight="bold" >200</text>
<text transform="translate(474.4,400.96) scale(1,1.06)" font-size="11" text-anchor="middle" font-family="Liberation Sans" font-weight="bold" >300</text>
<text transform="translate(516.4,400.96) scale(1,1.06)" font-size="11" text-anchor="middle" font-family="Liberation Sans" font-weight="bold" >400</text>
<text transform="translate(447.7,420.5) scale(1,1.0)" font-size="14" text-anchor="middle" font-family="Liberation Sans" font-weight="bold" >Time <tspan font-weight="normal">(</tspan>s<tspan font-weight="normal">)</tspan></text>
<text transform="translate(308.9,312.6) rotate(-90)" x="0" y="0" font-size="14.3" text-anchor="middle" font-family="Liberation Sans" font-weight="bold">Voltage <tspan font-weight="normal">(</tspan>V<tspan font-weight="normal">)</tspan></text>
<line x1="342.2" y1="259.3" x2="538" y2="259.3" stroke="#000" stroke-width="1.3" stroke-dasharray="4.3,5.05"/>
<polygon points="350,377.35 350.7,376.54 351.4,375.74 352.1,374.93 352.8,374.12 353.5,373.32 354.2,372.51 354.9,371.71 355.6,370.9 356.3,370.09 357,369.29 357.7,368.48 358.4,367.68 359.1,366.87 359.8,366.06 360.5,365.26 361.2,364.45 361.9,363.65 362.6,362.84 363.3,362.03 364,361.23 364.7,360.42 365.4,359.62 366.1,358.87 366.8,358.14 367.5,357.4 368.2,356.67 368.9,355.93 369.6,355.2 370.3,354.46 371,353.73 371.7,352.99 372.4,352.26 373.1,351.52 373.8,350.79 374.5,350.05 375.2,349.32 375.9,348.58 376.6,347.85 377.3,347.11 378,346.38 378.7,345.64 379.4,344.91 380.1,344.17 380.8,343.44 381.5,342.7 382.2,341.97 382.9,341.23 383.6,340.5 384.3,339.76 385,339.03 385.7,338.33 386.4,337.74 387.1,337.15 387.8,336.57 388.5,335.98 389.2,335.39 389.9,334.8 390.6,334.21 391.3,333.62 392,333.03 392.7,332.45 393.4,331.86 394.1,331.27 394.8,330.68 395.5,330.09 396.2,329.5 396.9,328.91 397.6,328.33 398.3,327.74 399,327.15 399.7,326.56 400.4,325.97 401.1,325.38 401.8,324.79 402.5,324.2 403.2,323.62 403.9,323.03 404.6,322.44 405.3,321.85 406,321.26 406.7,320.67 407.4,320.08 408.1,319.54 408.8,319.01 409.5,318.48 410.2,317.95 410.9,317.41 411.6,316.88 412.3,316.35 413,315.82 413.7,315.28 414.4,314.75 415.1,314.22 415.8,313.68 416.5,313.15 417.2,312.62 417.9,312.09 418.6,311.55 419.3,311.02 420,310.49 420.7,309.96 421.4,309.42 422.1,308.89 422.8,308.36 423.5,307.83 424.2,307.29 424.9,306.76 425.6,306.23 426.3,305.7 427,305.16 427.7,304.63 428.4,304.1 429.1,303.57 429.8,303.03 430.5,302.5 431.2,301.99 431.9,301.49 432.6,300.98 433.3,300.47 434,299.96 434.7,299.46 435.4,298.95 436.1,298.44 436.8,297.93 437.5,297.43 438.2,296.92 438.9,296.41 439.6,295.9 440.3,295.4 441,294.89 441.7,294.38 442.4,293.87 443.1,293.37 443.8,292.86 444.5,292.35 445.2,291.84 445.9,291.34 446.6,290.83 447.3,290.32 448,289.81 448.7,289.31 449.4,288.8 450.1,288.29 450.8,287.82 451.5,287.39 452.2,286.96 452.9,286.54 453.6,286.11 454.3,285.68 455,285.25 455.7,284.83 456.4,284.4 457.1,283.97 457.8,283.55 458.5,283.12 459.2,282.69 459.9,282.27 460.6,281.84 461.3,281.41 462,280.98 462.7,280.56 463.4,280.13 464.1,279.7 464.8,279.28 465.5,278.85 466.2,278.42 466.9,277.99 467.6,277.57 468.3,277.14 469,276.71 469.7,276.29 470.4,275.86 471.1,275.43 471.8,275 472.5,274.58 473.2,274.15 473.9,273.72 474.6,273.3 475.3,272.87 476,272.44 476.7,272.02 477.4,271.59 478.1,271.16 478.8,270.73 479.5,270.31 480.2,269.88 480.9,269.45 481.6,269.03 482.3,268.6 483,268.17 483.7,267.74 484.4,267.32 485.1,266.89 485.8,266.46 486.5,266.04 487.2,265.61 487.9,265.18 488.6,264.76 489.3,264.33 490,263.9 490.7,263.47 491.4,263.05 492.1,262.62 492.8,262.19 493.5,261.77 494.2,261.34 494.9,260.91 495.6,260.48 496.3,260.06 497,259.63 497.7,259.2 498.4,258.78 499.1,258.35 499.8,257.92 500.5,257.61 501.2,257.35 501.9,257.09 502.6,256.83 503.3,256.57 504,256.3 504.7,256.04 505.4,255.78 506.1,255.52 506.8,255.26 507.5,255 508.2,254.73 508.9,254.47 509.6,254.21 510.3,253.95 511,253.69 511,271.67 510.3,271.92 509.6,272.16 508.9,272.4 508.2,272.65 507.5,272.89 506.8,273.13 506.1,273.38 505.4,273.62 504.7,273.87 504,274.11 503.3,274.35 502.6,274.6 501.9,274.84 501.2,275.08 500.5,275.33 499.8,275.63 499.1,276.06 498.4,276.5 497.7,276.94 497,277.38 496.3,277.82 495.6,278.26 494.9,278.69 494.2,279.13 493.5,279.57 492.8,280.01 492.1,280.45 491.4,280.89 490.7,281.32 490,281.76 489.3,282.2 488.6,282.64 487.9,283.08 487.2,283.52 486.5,283.95 485.8,284.39 485.1,284.83 484.4,285.27 483.7,285.71 483,286.15 482.3,286.58 481.6,287.02 480.9,287.46 480.2,287.9 479.5,288.34 478.8,288.78 478.1,289.22 477.4,289.65 476.7,290.09 476,290.53 475.3,290.97 474.6,291.41 473.9,291.85 473.2,292.28 472.5,292.72 471.8,293.16 471.1,293.6 470.4,294.04 469.7,294.48 469,294.91 468.3,295.35 467.6,295.79 466.9,296.23 466.2,296.67 465.5,297.11 464.8,297.54 464.1,297.98 463.4,298.42 462.7,298.86 462,299.3 461.3,299.74 460.6,300.17 459.9,300.61 459.2,301.05 458.5,301.49 457.8,301.93 457.1,302.37 456.4,302.81 455.7,303.24 455,303.68 454.3,304.12 453.6,304.56 452.9,305 452.2,305.44 451.5,305.87 450.8,306.31 450.1,306.78 449.4,307.27 448.7,307.76 448,308.25 447.3,308.74 446.6,309.23 445.9,309.72 445.2,310.21 444.5,310.7 443.8,311.19 443.1,311.68 442.4,312.17 441.7,312.66 441,313.15 440.3,313.64 439.6,314.13 438.9,314.62 438.2,315.11 437.5,315.6 436.8,316.09 436.1,316.58 435.4,317.07 434.7,317.56 434,318.05 433.3,318.54 432.6,319.03 431.9,319.52 431.2,320.01 430.5,320.5 429.8,320.96 429.1,321.41 428.4,321.87 427.7,322.33 427,322.78 426.3,323.24 425.6,323.7 424.9,324.15 424.2,324.61 423.5,325.07 422.8,325.52 422.1,325.98 421.4,326.43 420.7,326.89 420,327.35 419.3,327.8 418.6,328.26 417.9,328.72 417.2,329.17 416.5,329.63 415.8,330.09 415.1,330.54 414.4,331 413.7,331.46 413,331.91 412.3,332.37 411.6,332.83 410.9,333.28 410.2,333.74 409.5,334.2 408.8,334.65 408.1,335.11 407.4,335.55 406.7,335.94 406,336.32 405.3,336.7 404.6,337.08 403.9,337.46 403.2,337.85 402.5,338.23 401.8,338.61 401.1,338.99 400.4,339.37 399.7,339.75 399,340.14 398.3,340.52 397.6,340.9 396.9,341.28 396.2,341.66 395.5,342.05 394.8,342.43 394.1,342.81 393.4,343.19 392.7,343.57 392,343.95 391.3,344.34 390.6,344.72 389.9,345.1 389.2,345.48 388.5,345.86 387.8,346.25 387.1,346.63 386.4,347.01 385.7,347.39 385,347.93 384.3,348.52 383.6,349.12 382.9,349.71 382.2,350.31 381.5,350.9 380.8,351.5 380.1,352.09 379.4,352.69 378.7,353.28 378,353.88 377.3,354.47 376.6,355.07 375.9,355.66 375.2,356.26 374.5,356.85 373.8,357.45 373.1,358.04 372.4,358.64 371.7,359.23 371,359.83 370.3,360.42 369.6,361.02 368.9,361.61 368.2,362.21 367.5,362.8 366.8,363.4 366.1,363.99 365.4,364.58 364.7,365.17 364,365.76 363.3,366.35 362.6,366.93 361.9,367.52 361.2,368.11 360.5,368.69 359.8,369.28 359.1,369.87 358.4,370.45 357.7,371.04 357,371.63 356.3,372.22 355.6,372.8 354.9,373.39 354.2,373.98 353.5,374.56 352.8,375.15 352.1,375.74 351.4,376.33 350.7,376.91 350,377.5" fill="#000" stroke="none"/>
<path d="M350 373.84V378.56M350.7 372.84V378.15M351.4 371.97V378.81M352.1 372.09V377.88M352.8 370.19V376.5M353.5 371.97V376.16M354.2 370.33V376.29M354.9 366.71V374.54M355.6 368.7V375.64M356.3 366.45V373.4M357 365.17V375.73M357.7 364.49V372.53M358.4 366.45V372.65M359.1 361.5V370.96M359.8 361.96V371.95M360.5 363.04V370.73M361.2 362.55V371.89M361.9 360.57V369.47M362.6 359.89V368.4M363.3 356.67V368.18M364 358.82V367.06M364.7 357.82V369.97M365.4 357.66V367.99M366.1 353.7V365.46M366.8 354.01V365.72M367.5 353.93V365.67M368.2 353.07V363.38M368.9 354.22V363.51M369.6 351.87V364.11M370.3 353.1V363.83M371 350.5V363.72M371.7 346.75V361.22M372.4 349.8V360.81M373.1 349.42V362.61M373.8 349.58V359.52M374.5 348.26V360.28M375.2 347.64V361.98M375.9 346.74V357.43M376.6 346.74V357.8M377.3 343.04V357.98M378 343.4V357.61M378.7 344.26V354.39M379.4 343.5V358.31M380.1 341.32V354.44M380.8 340.4V353.39M381.5 336.83V354.31M382.2 340.27V353.82M382.9 337.11V351.25M383.6 337.27V352.59M384.3 334.39V360.96M385 337.49V350.43M385.7 337.19V348.81M386.4 336.42V349.26M387.1 333.29V352.38M387.8 332.74V351.46M388.5 334.91V348.01M389.2 331.66V347.51M389.9 333.4V348.46M390.6 332.79V347.17M391.3 330.84V351.03M392 330.1V345.18M392.7 330.21V344.75M393.4 330.22V344.94M394.1 329.14V346.29M394.8 327.01V344.58M395.5 326.85V344.18M396.2 324.33V345.17M396.9 325.44V343.87M397.6 324.77V344.5M398.3 325.82V343.69M399 323.84V348M399.7 324.01V341.26M400.4 323.89V340.92M401.1 322.1V341.56M401.8 323.38V341.92M402.5 320.78V339.45M403.2 322.48V341.06M403.9 320.68V340.54M404.6 320.8V338.34M405.3 320.16V338.29M406 319.26V337.74M406.7 318.25V337.25M407.4 317.4V337.23M408.1 317.86V337.35M408.8 317.85V338.32M409.5 316.27V336.7M410.2 316.7V335.22M410.9 310.73V334.78M411.6 315.33V335.46M412.3 313.69V340.95M413 314.29V333.91M413.7 314.07V333.84M414.4 312.68V334.07M415.1 312.26V332.36M415.8 312.36V331.78M416.5 309.18V334.63M417.2 309.43V332.11M417.9 308.91V330.07M418.6 310.06V332.51M419.3 307.2V331.25M420 306.05V330.7M420.7 306.23V328.55M421.4 307.61V329.36M422.1 305.79V327.75M422.8 306.54V329.7M423.5 305V326.21M424.2 304.26V328.63M424.9 302.31V326.63M425.6 304.34V327.01M426.3 304.25V324.93M427 299.59V327.26M427.7 300.73V326.33M428.4 301.41V326.49M429.1 300.16V325.8M429.8 300.32V323.86M430.5 298.25V324.46M431.2 298.75V321.82M431.9 299.61V322.19M432.6 299.59V322.72M433.3 296.85V326.8M434 298.91V319.53M434.7 296.51V320.76M435.4 294.41V321.76M436.1 295.89V319.1M436.8 296.14V317.54M437.5 292.93V318.06M438.2 291.52V317.07M438.9 294.04V319.55M439.6 291.87V317.26M440.3 289.65V314.75M441 292.01V317.4M441.7 288.79V314.27M442.4 291.96V316.64M443.1 289.23V312.83M443.8 291.79V313.21M444.5 290.65V314.08M445.2 289.24V312.08M445.9 289.47V312.88M446.6 287.61V313.79M447.3 285.31V309.84M448 285.08V313.52M448.7 287.22V309.43M449.4 286.16V310.71M450.1 284.03V310.41M450.8 285.46V311.31M451.5 284.54V312.33M452.2 284.56V307.59M452.9 284.77V307.18M453.6 283.37V307.27M454.3 284.54V308.16M455 283.28V307.72M455.7 282.26V309.91M456.4 282.51V308.31M457.1 282.59V303.86M457.8 278.31V304.02M458.5 280.04V305.64M459.2 280.69V305.82M459.9 280.62V302.85M460.6 279.34V302.1M461.3 278.09V303.86M462 279.92V307.89M462.7 278.76V301.94M463.4 277.69V300.5M464.1 277.31V299.95M464.8 277.1V300.19M465.5 275.91V298.89M466.2 277.1V298.96M466.9 272.55V297.51M467.6 275.86V298.22M468.3 275.99V299.34M469 275.56V298.08M469.7 271.32V297.87M470.4 274.23V298.27M471.1 272.36V295.44M471.8 271.91V297.19M472.5 272.23V296.91M473.2 272.25V297.28M473.9 272.66V296.28M474.6 271.7V294.44M475.3 267.78V295.69M476 270.5V291.95M476.7 270.76V294.97M477.4 267.33V291.22M478.1 268.16V291.47M478.8 266.96V292.89M479.5 268.74V289.71M480.2 264.95V291.39M480.9 267.49V289.21M481.6 265.31V289.98M482.3 267.44V288.72M483 266.12V290.16M483.7 264.95V287.31M484.4 265.51V287.64M485.1 262.07V289.21M485.8 264.98V288.21M486.5 264.18V287.58M487.2 263.65V286.47M487.9 261.64V284.52M488.6 260.95V284.05M489.3 263.23V284.94M490 261.16V283.41M490.7 260.8V282.9M491.4 259.92V283.75M492.1 260.57V282.88M492.8 258.24V283.14M493.5 257.85V281.35M494.2 260.11V284.34M494.9 259.42V280.03M495.6 258.87V281.8M496.3 258.07V282.36M497 256.8V280.71M497.7 248.78V279.68M498.4 256.96V278.4M499.1 254.2V277.25M499.8 251.8V277.42M500.5 254.03V277.69M501.2 255.21V278.1M501.9 255.86V279.91M502.6 253.04V275.7M503.3 254.23V277.42M504 249.95V280.14M504.7 254.25V276.35M505.4 253.37V275.13M506.1 250.78V275.18M506.8 250.63V277.26M507.5 251.28V274.42M508.2 250.47V274.53M508.9 253.41V276.67M509.6 245.66V273.37M510.3 249.45V273.35M511 251.93V275.58" stroke="#000" stroke-width="1.15" fill="none"/>
<line x1="511.5" y1="251" x2="511.5" y2="273" stroke="#000" stroke-width="1"/>
<polygon points="350,376.44 350.7,375 351.4,373.55 352.1,372.11 352.8,370.67 353.5,369.23 354.2,367.78 354.9,366.34 355.6,364.9 356.3,363.46 357,362.02 357.7,360.57 358.4,359.13 359.1,357.69 359.8,356.25 360.5,354.8 361.2,353.36 361.9,351.92 362.6,350.48 363.3,349.03 364,347.59 364.7,346.15 365.4,344.71 366.1,343.93 366.8,343.27 367.5,342.6 368.2,341.94 368.9,341.27 369.6,340.61 370.3,339.94 371,339.28 371.7,338.61 372.4,337.95 373.1,337.28 373.8,336.62 374.5,335.95 375.2,335.29 375.9,334.62 376.6,333.96 377.3,333.29 378,332.63 378.7,331.96 379.4,331.3 380.1,330.63 380.8,329.97 381.5,329.3 382.2,328.64 382.9,327.97 383.6,327.31 384.3,326.64 385,325.98 385.7,325.23 386.4,324.3 387.1,323.37 387.8,322.44 388.5,321.5 389.2,320.57 389.9,319.64 390.6,318.71 391.3,317.78 392,316.84 392.7,315.91 393.4,314.98 394.1,314.05 394.8,313.11 395.5,312.18 396.2,311.25 396.9,310.32 397.6,309.39 398.3,308.45 399,307.52 399.7,306.59 400.4,305.66 401.1,304.72 401.8,303.79 402.5,302.86 403.2,301.93 403.9,300.99 404.6,300.06 405.3,299.13 406,298.2 406.7,297.27 407.4,296.33 408.1,295.53 408.8,294.75 409.5,293.97 410.2,293.18 410.9,292.4 411.6,291.62 412.3,290.84 413,290.05 413.7,289.27 414.4,288.49 415.1,287.71 415.8,286.93 416.5,286.14 417.2,285.36 417.9,284.58 418.6,283.8 419.3,283.01 420,282.23 420.7,281.45 421.4,280.67 422.1,279.89 422.8,279.1 423.5,278.32 424.2,277.54 424.9,276.76 425.6,275.98 426.3,275.19 427,274.41 427.7,273.63 428.4,272.85 429.1,272.06 429.8,271.28 430.5,270.5 431.2,269.67 431.9,268.83 432.6,268 433.3,267.16 434,266.33 434.7,265.49 435.4,264.66 436.1,263.82 436.8,262.99 437.5,262.15 438.2,261.32 438.9,260.48 439.6,259.65 440.3,258.82 441,257.98 441.7,257.15 442.4,256.31 443.1,255.48 443.1,271.98 442.4,272.82 441.7,273.66 441,274.5 440.3,275.34 439.6,276.18 438.9,277.02 438.2,277.86 437.5,278.7 436.8,279.54 436.1,280.38 435.4,281.22 434.7,282.06 434,282.9 433.3,283.74 432.6,284.58 431.9,285.42 431.2,286.26 430.5,287.1 429.8,287.89 429.1,288.69 428.4,289.48 427.7,290.28 427,291.07 426.3,291.87 425.6,292.66 424.9,293.45 424.2,294.25 423.5,295.04 422.8,295.84 422.1,296.63 421.4,297.43 420.7,298.22 420,299.02 419.3,299.81 418.6,300.6 417.9,301.4 417.2,302.19 416.5,302.99 415.8,303.78 415.1,304.58 414.4,305.37 413.7,306.16 413,306.96 412.3,307.75 411.6,308.55 410.9,309.34 410.2,310.14 409.5,310.93 408.8,311.72 408.1,312.52 407.4,313.31 406.7,314.04 406,314.78 405.3,315.51 404.6,316.25 403.9,316.98 403.2,317.72 402.5,318.45 401.8,319.19 401.1,319.92 400.4,320.66 399.7,321.39 399,322.13 398.3,322.86 397.6,323.6 396.9,324.33 396.2,325.07 395.5,325.8 394.8,326.54 394.1,327.27 393.4,328.01 392.7,328.74 392,329.48 391.3,330.21 390.6,330.95 389.9,331.68 389.2,332.42 388.5,333.15 387.8,333.89 387.1,334.62 386.4,335.36 385.7,336.09 385,336.87 384.3,337.66 383.6,338.46 382.9,339.25 382.2,340.05 381.5,340.84 380.8,341.63 380.1,342.43 379.4,343.22 378.7,344.02 378,344.81 377.3,345.61 376.6,346.4 375.9,347.2 375.2,347.99 374.5,348.79 373.8,349.58 373.1,350.37 372.4,351.17 371.7,351.96 371,352.76 370.3,353.55 369.6,354.35 368.9,355.14 368.2,355.94 367.5,356.73 366.8,357.52 366.1,358.32 365.4,359.12 364.7,359.95 364,360.79 363.3,361.63 362.6,362.46 361.9,363.3 361.2,364.13 360.5,364.97 359.8,365.8 359.1,366.64 358.4,367.47 357.7,368.31 357,369.15 356.3,369.98 355.6,370.82 354.9,371.65 354.2,372.49 353.5,373.32 352.8,374.16 352.1,374.99 351.4,375.83 350.7,376.66 350,377.5" fill="#ff0000" stroke="none"/>
<path d="M350 374.84V379.9M350.7 370.44V377.94M351.4 372.47V378.46M352.1 370.94V376.89M352.8 368.56V376.79M353.5 367.84V376.57M354.2 365.96V375.07M354.9 364.55V376.56M355.6 362.93V372.97M356.3 362.2V372.51M357 359.63V372.3M357.7 358.32V369.57M358.4 355.57V370.48M359.1 356.12V370.31M359.8 354.35V367.65M360.5 352.19V369.05M361.2 352.02V366.46M361.9 350.24V365.89M362.6 347.13V365.17M363.3 347.73V363.44M364 345.41V362.66M364.7 344.05V363.16M365.4 342.81V361.03M366.1 341.68V360.13M366.8 337.36V360.96M367.5 340.83V358.46M368.2 340.24V358.67M368.9 338.51V357.7M369.6 338.77V356.47M370.3 338.76V355.02M371 335.34V355.65M371.7 337.16V355.42M372.4 334.26V353.37M373.1 335.53V353.25M373.8 332.92V351.53M374.5 331.31V350.58M375.2 330.4V350.5M375.9 331.81V350.16M376.6 332.62V350.47M377.3 332.14V347.03M378 330.68V347.6M378.7 327.08V346.58M379.4 328.57V344.56M380.1 328.4V344.3M380.8 326.61V345.53M381.5 328.04V344.24M382.2 326.85V341.87M382.9 326.59V344.24M383.6 323.15V340.2M384.3 323.6V339.87M385 324.91V338.53M385.7 324.02V340.83M386.4 321.73V337.99M387.1 320.67V335.76M387.8 320.51V335.52M388.5 319.49V334.48M389.2 319.12V333.97M389.9 318.43V337.26M390.6 316.12V334.63M391.3 315.82V332.57M392 311.93V332.44M392.7 310.88V331.37M393.4 310.76V332.89M394.1 311.02V336.69M394.8 311V330.7M395.5 310.69V327.63M396.2 309.81V326.8M396.9 308.6V326.23M397.6 308.06V324.74M398.3 305.32V324.09M399 303.64V324.55M399.7 304.79V325.87M400.4 303.22V323.37M401.1 301.67V321.44M401.8 301.9V320.69M402.5 299.16V319.93M403.2 300.02V321.93M403.9 296.84V319.58M404.6 298.9V317.9M405.3 297.03V318.68M406 294.01V317.32M406.7 296.1V316.87M407.4 293.87V314.48M408.1 293.13V314.88M408.8 293.58V313.71M409.5 291.77V313.81M410.2 288.63V311.75M410.9 290.26V310.94M411.6 289.82V313.31M412.3 288.08V311.46M413 287.48V309.47M413.7 287.8V307.7M414.4 287.17V307.11M415.1 284.75V308.29M415.8 284.4V306.35M416.5 282.7V306.46M417.2 280.12V306.85M417.9 282.21V304.81M418.6 280.49V303.08M419.3 281.02V303.4M420 281.08V301.39M420.7 280V299.93M421.4 277.59V298.83M422.1 278.13V298.45M422.8 276.56V299.22M423.5 270.55V297.44M424.2 276.13V299.12M424.9 273.49V294.68M425.6 274.76V294.78M426.3 272.54V294.36M427 269.38V295.12M427.7 272.34V294M428.4 270.84V291.71M429.1 270.67V290.39M429.8 269.62V290.87M430.5 266.24V288.39M431.2 263V287.43M431.9 265.84V287.07M432.6 266.38V288.49M433.3 262.89V285.32M434 263.29V284.58M434.7 263.93V284.22M435.4 261.69V282.28M436.1 262.37V281.59M436.8 261.84V281.99M437.5 259.57V281.51M438.2 257.14V279.43M438.9 258.88V283.34M439.6 255.02V279.68M440.3 255.69V281.73M441 252.57V276.56M441.7 253.29V275M442.4 253.84V275.07M443.1 252.81V274.78" stroke="#ff0000" stroke-width="1.1" fill="none"/>
<line x1="443.5" y1="252" x2="443.5" y2="273" stroke="#ff0000" stroke-width="1"/>
<polygon points="385.2,251.3 385.01,251.85 384.82,252.4 384.63,252.95 384.44,253.5 384.25,254.05 384.06,254.6 383.87,255.15 383.68,255.7 383.49,256.25 383.3,256.8 383.11,257.35 382.92,257.9 382.73,258.45 382.54,259 382.35,259.55 382.16,260.1 381.97,260.65 381.78,261.2 381.59,261.75 381.36,262.3 381.1,262.85 380.84,263.4 380.58,263.95 380.32,264.5 380.06,265.05 379.8,265.6 379.54,266.15 379.28,266.7 379.02,267.25 378.76,267.8 378.5,268.35 378.24,268.9 377.98,269.45 377.72,270 377.46,270.55 377.2,271.1 376.94,271.65 376.68,272.2 376.42,272.75 376.16,273.3 375.9,273.85 375.64,274.4 375.38,274.95 375.12,275.5 374.87,276.05 374.61,276.6 374.35,277.15 374.09,277.7 373.83,278.25 373.57,278.8 373.31,279.35 373.05,279.9 372.92,280.45 372.81,281 372.71,281.55 372.61,282.1 372.51,282.65 372.41,283.2 372.31,283.75 372.2,284.3 372.1,284.85 372,285.4 371.9,285.95 371.8,286.5 371.7,287.05 371.59,287.6 371.49,288.15 371.39,288.7 371.29,289.25 371.19,289.8 371.09,290.35 370.98,290.9 370.88,291.45 370.78,292 370.68,292.55 370.58,293.1 370.47,293.65 370.37,294.2 370.27,294.75 370.17,295.3 370.07,295.85 369.97,296.4 369.86,296.95 369.76,297.5 369.66,298.05 369.56,298.6 369.46,299.15 369.36,299.7 369.23,300.25 369.07,300.8 368.92,301.35 368.76,301.9 368.6,302.45 368.45,303 368.29,303.55 368.14,304.1 367.98,304.65 367.82,305.2 367.67,305.75 367.51,306.3 367.35,306.85 367.2,307.4 367.04,307.95 366.89,308.5 366.73,309.05 366.57,309.6 366.42,310.15 366.26,310.7 366.1,311.25 365.95,311.8 365.79,312.35 365.64,312.9 365.48,313.45 365.32,314 365.17,314.55 365.01,315.1 364.86,315.65 364.7,316.2 364.54,316.75 364.39,317.3 364.23,317.85 364.07,318.4 363.92,318.95 363.76,319.5 363.61,320.05 363.45,320.6 363.29,321.15 363.14,321.7 362.98,322.25 362.82,322.8 362.67,323.35 362.51,323.9 362.36,324.45 362.2,325 362.05,325.55 361.9,326.1 361.75,326.65 361.61,327.2 361.46,327.75 361.31,328.3 361.16,328.85 361.01,329.4 360.86,329.95 360.71,330.5 360.57,331.05 360.42,331.6 360.27,332.15 360.12,332.7 359.97,333.25 359.82,333.8 359.68,334.35 359.53,334.9 359.38,335.45 359.23,336 359.08,336.55 358.93,337.1 358.78,337.65 358.64,338.2 358.49,338.75 358.34,339.3 358.19,339.85 358.04,340.4 357.89,340.95 357.74,341.5 357.6,342.05 357.45,342.6 357.3,343.15 357.15,343.7 357,344.25 356.85,344.8 356.72,345.35 356.59,345.9 356.47,346.45 356.34,347 356.21,347.55 356.09,348.1 355.96,348.65 355.83,349.2 355.71,349.75 355.58,350.3 355.45,350.85 355.33,351.4 355.2,351.95 355.07,352.5 354.95,353.05 354.82,353.6 354.7,354.15 354.57,354.7 354.44,355.25 354.32,355.8 354.19,356.35 354.06,356.9 353.94,357.45 353.81,358 353.68,358.55 353.56,359.1 353.43,359.65 353.3,360.2 353.18,360.75 353.05,361.3 352.92,361.85 352.8,362.4 352.67,362.95 352.54,363.5 352.42,364.05 352.29,364.6 352.16,365.15 352.02,365.7 351.87,366.25 351.73,366.8 351.59,367.35 351.44,367.9 351.3,368.45 351.15,369 351.01,369.55 350.87,370.1 350.72,370.65 350.58,371.2 350.43,371.75 350.29,372.3 350.15,372.85 350,373.4 349.86,373.95 349.72,374.5 349.57,375.05 349.43,375.6 349.28,376.15 349.14,376.7 349,377.25 348.85,377.8 349.55,377.8 349.7,377.25 349.85,376.7 350,376.15 350.15,375.6 350.29,375.05 350.44,374.5 350.59,373.95 350.74,373.4 350.89,372.85 351.03,372.3 351.18,371.75 351.33,371.2 351.48,370.65 351.63,370.1 351.77,369.55 351.92,369 352.07,368.45 352.22,367.9 352.37,367.35 352.52,366.8 352.66,366.25 352.81,365.7 352.96,365.15 353.13,364.6 353.3,364.05 353.47,363.5 353.65,362.95 353.82,362.4 353.99,361.85 354.17,361.3 354.34,360.75 354.51,360.2 354.69,359.65 354.86,359.1 355.03,358.55 355.2,358 355.38,357.45 355.55,356.9 355.72,356.35 355.9,355.8 356.07,355.25 356.24,354.7 356.42,354.15 356.59,353.6 356.76,353.05 356.94,352.5 357.11,351.95 357.28,351.4 357.46,350.85 357.63,350.3 357.8,349.75 357.98,349.2 358.15,348.65 358.32,348.1 358.5,347.55 358.67,347 358.84,346.45 359.02,345.9 359.19,345.35 359.37,344.8 359.57,344.25 359.77,343.7 359.98,343.15 360.18,342.6 360.38,342.05 360.58,341.5 360.78,340.95 360.98,340.4 361.18,339.85 361.38,339.3 361.58,338.75 361.78,338.2 361.98,337.65 362.18,337.1 362.38,336.55 362.58,336 362.79,335.45 362.99,334.9 363.19,334.35 363.39,333.8 363.59,333.25 363.79,332.7 363.99,332.15 364.19,331.6 364.39,331.05 364.59,330.5 364.79,329.95 364.99,329.4 365.19,328.85 365.4,328.3 365.6,327.75 365.8,327.2 366,326.65 366.2,326.1 366.4,325.55 366.6,325 366.77,324.45 366.94,323.9 367.11,323.35 367.29,322.8 367.46,322.25 367.63,321.7 367.8,321.15 367.97,320.6 368.14,320.05 368.32,319.5 368.49,318.95 368.66,318.4 368.83,317.85 369,317.3 369.17,316.75 369.35,316.2 369.52,315.65 369.69,315.1 369.86,314.55 370.03,314 370.2,313.45 370.38,312.9 370.55,312.35 370.72,311.8 370.89,311.25 371.06,310.7 371.23,310.15 371.4,309.6 371.58,309.05 371.75,308.5 371.92,307.95 372.09,307.4 372.26,306.85 372.43,306.3 372.61,305.75 372.78,305.2 372.95,304.65 373.12,304.1 373.29,303.55 373.46,303 373.64,302.45 373.81,301.9 373.98,301.35 374.15,300.8 374.32,300.25 374.49,299.7 374.66,299.15 374.83,298.6 374.99,298.05 375.16,297.5 375.33,296.95 375.5,296.4 375.67,295.85 375.83,295.3 376,294.75 376.17,294.2 376.34,293.65 376.5,293.1 376.67,292.55 376.84,292 377.01,291.45 377.18,290.9 377.34,290.35 377.51,289.8 377.68,289.25 377.85,288.7 378.01,288.15 378.18,287.6 378.35,287.05 378.52,286.5 378.69,285.95 378.85,285.4 379.02,284.85 379.19,284.3 379.36,283.75 379.52,283.2 379.69,282.65 379.86,282.1 380.03,281.55 380.19,281 380.36,280.45 380.51,279.9 380.59,279.35 380.67,278.8 380.74,278.25 380.82,277.7 380.9,277.15 380.97,276.6 381.05,276.05 381.12,275.5 381.2,274.95 381.28,274.4 381.35,273.85 381.43,273.3 381.51,272.75 381.58,272.2 381.66,271.65 381.74,271.1 381.81,270.55 381.89,270 381.97,269.45 382.04,268.9 382.12,268.35 382.19,267.8 382.27,267.25 382.35,266.7 382.42,266.15 382.5,265.6 382.58,265.05 382.65,264.5 382.73,263.95 382.81,263.4 382.88,262.85 382.96,262.3 383.03,261.75 383.1,261.2 383.18,260.65 383.25,260.1 383.32,259.55 383.39,259 383.46,258.45 383.54,257.9 383.61,257.35 383.68,256.8 383.75,256.25 383.82,255.7 383.9,255.15 383.97,254.6 384.04,254.05 384.11,253.5 384.18,252.95 384.26,252.4 384.33,251.85 384.4,251.3" fill="#0000ff" stroke="none"/>
<path d="M384 251.3H385.94M383.54 251.85H386.05M382.23 252.4H386.03M383.62 252.95H385.35M382.81 253.5H386.09M382.49 254.05H385.14M382.61 254.6H385.25M382.23 255.15H384.92M382.19 255.7H385.29M382.2 256.25H385.04M381.07 256.8H385.26M380.85 257.35H384.9M380.26 257.9H384.75M380.94 258.45H384.52M381.53 259H386.03M380.9 259.55H384.64M380.22 260.1H385.78M379.99 260.65H385.52M379.33 261.2H384.13M380.32 261.75H384.39M380.09 262.3H384.61M379.42 262.85H384.6M378.87 263.4H384.93M379.44 263.95H384.11M378.82 264.5H384.11M378.63 265.05H384.09M378.31 265.6H383.77M378.47 266.15H384.38M377.51 266.7H384.38M377.83 267.25H383.32M376.75 267.8H384.09M377.07 268.35H383.2M377.1 268.9H383.74M376.73 269.45H382.99M375.9 270H384.57M375.38 270.55H382.82M375.6 271.1H382.8M374.8 271.65H382.93M374.87 272.2H383.28M373.21 272.75H382.89M373.27 273.3H382.45M374.62 273.85H383.12M374.63 274.4H382.39M372.9 274.95H383.01M371.92 275.5H382.45M372.63 276.05H382.6M372.15 276.6H382.83M373 277.15H382.35M373.05 277.7H383.71M372.41 278.25H382.37M372.35 278.8H382.49M371.47 279.35H382.38M371.67 279.9H382.11M370.89 280.45H381.8M371.68 281H382.64M371.56 281.55H381.42M370.03 282.1H380.89M371.44 282.65H381.19M370.67 283.2H381.56M370.04 283.75H380.99M371.16 284.3H381.41M370.14 284.85H380.72M370.93 285.4H380.47M370.17 285.95H381.52M370.54 286.5H380.06M370.4 287.05H380.86M370.46 287.6H379.26M369.9 288.15H380.15M369.94 288.7H379.42M370.11 289.25H379.13M370.16 289.8H379.19M368.96 290.35H379.06M368.63 290.9H378.88M369.66 291.45H379.05M369.33 292H378.31M368.7 292.55H377.8M368.85 293.1H377.88M368.99 293.65H378.41M369.26 294.2H378.55M368.16 294.75H379.35M368.97 295.3H377.84M368.15 295.85H377.35M368.3 296.4H377.09M368.44 296.95H377.29M368.59 297.5H378.07M367.9 298.05H376.47M367 298.6H377.67M367.5 299.15H376.63M367.83 299.7H375.89M368.07 300.25H375.75M367.81 300.8H375.21M367.52 301.35H375.32M367.53 301.9H375.06M366.85 302.45H375.25M366.48 303H375.08M366.13 303.55H375.53M366.7 304.1H374.35M366.33 304.65H374.49M365.58 305.2H373.83M365.55 305.75H373.97M366.49 306.3H374.81M364.66 306.85H373.55M365.65 307.4H373.63M365.36 307.95H373.71M365.78 308.5H373.12M364.68 309.05H372.69M365.56 309.6H372.56M364.37 310.15H372.65M364.38 310.7H372.21M364.52 311.25H372.85M364.92 311.8H373.26M363.01 312.35H372.64M363.95 312.9H371.61M362.71 313.45H372.35M364.15 314H372.03M363.68 314.55H371.16M363.49 315.1H371.02M363.58 315.65H371.05M362.86 316.2H370.6M361.53 316.75H370.85M362.2 317.3H370.64M362.36 317.85H370.05M362.96 318.4H370.53M362.51 318.95H370.03M362.65 319.5H369.37M362.52 320.05H370.51M362.02 320.6H369.32M361.42 321.15H370.29M361.02 321.7H369.47M361.56 322.25H369.08M361.05 322.8H368.4M361.61 323.35H368.82M361.22 323.9H368.88M360.34 324.45H368.19M360.45 325H367.84M360.97 325.55H367.95M360.6 326.1H367.7M360.35 326.65H367.02M360.43 327.2H367.1M359.92 327.75H366.8M359.05 328.3H367.5M359.8 328.85H367.86M359.47 329.4H366.07M359.38 329.95H366.21M359.34 330.5H365.94M358.89 331.05H365.49M358.5 331.6H365.8M359.11 332.15H365.49M358.5 332.7H364.82M357.74 333.25H364.67M358.45 333.8H365.29M357.77 334.35H364.45M357.67 334.9H364.6M358.17 335.45H363.84M356.98 336H364.72M357.65 336.55H363.64M357.63 337.1H363.63M357.45 337.65H364.12M357.1 338.2H363.81M356.33 338.75H363.01M356.92 339.3H362.73M356.35 339.85H362.68M356.15 340.4H362.9M356.87 340.95H362.2M355.71 341.5H362.25M356.21 342.05H361.59M355.41 342.6H361.46M356.28 343.15H361.82M355.85 343.7H361.22M355.9 344.25H360.6M354.67 344.8H360.38M354.91 345.35H360.61M353.7 345.9H360.2M354.73 346.45H360.65M354.42 347H360.24M354.96 347.55H359.85M354.43 348.1H359.77M354.55 348.65H359.76M353.8 349.2H359.03M354.17 349.75H359.94M354.5 350.3H358.99M353.78 350.85H358.97M354.1 351.4H358.51M353.25 351.95H359.12M353.1 352.5H358.46M353.52 353.05H358.01M352.23 353.6H358.48M353.04 354.15H358.02M352.56 354.7H357.54M352.96 355.25H357.61M352.3 355.8H357.61M352.59 356.35H357.45M351.55 356.9H356.88M352.75 357.45H356.96M351.66 358H356.37M352.41 358.55H357.31M352.47 359.1H356.14M352.22 359.65H357.24M351.32 360.2H356.01M351.87 360.75H355.57M350.51 361.3H355.42M351.65 361.85H355.9M350.22 362.4H356.05M351.09 362.95H354.66M350.55 363.5H354.49M351.04 364.05H354.39M351.26 364.6H354.28M350.25 365.15H354.62M350.21 365.7H354.16M350.32 366.25H355.36M349.82 366.8H355.37M350.5 367.35H354.18M349.71 367.9H353.77M350.26 368.45H353.18M349.12 369H353.79M348.36 369.55H352.85M349.65 370.1H353.32M348.94 370.65H352.56M349.26 371.2H354.04M348.69 371.75H353.27M348.92 372.3H352.19M348.07 372.85H352.26M347.71 373.4H352.33M348.5 373.95H352.45M347.99 374.5H351.55M347.16 375.05H352.47M348.29 375.6H351.18M347.45 376.15H351.6M348.09 376.7H350.92M347.61 377.25H352.66M346.97 377.8H350.61" stroke="#0000ff" stroke-width="0.9" fill="none"/>
<polygon points="368.2,251.3 368.08,251.85 367.95,252.4 367.83,252.95 367.71,253.5 367.59,254.05 367.46,254.6 367.34,255.15 367.22,255.7 367.1,256.25 366.97,256.8 366.85,257.35 366.73,257.9 366.61,258.45 366.48,259 366.36,259.55 366.24,260.1 366.11,260.65 365.99,261.2 365.87,261.75 365.75,262.3 365.62,262.85 365.5,263.4 365.38,263.95 365.26,264.5 365.13,265.05 365.01,265.6 364.89,266.15 364.77,266.7 364.64,267.25 364.52,267.8 364.4,268.35 364.28,268.9 364.15,269.45 364.03,270 363.91,270.55 363.78,271.1 363.66,271.65 363.54,272.2 363.42,272.75 363.29,273.3 363.17,273.85 363.05,274.4 362.93,274.95 362.8,275.5 362.68,276.05 362.56,276.6 362.44,277.15 362.31,277.7 362.19,278.25 362.07,278.8 361.94,279.35 361.82,279.9 361.75,280.45 361.7,281 361.64,281.55 361.59,282.1 361.53,282.65 361.48,283.2 361.42,283.75 361.37,284.3 361.31,284.85 361.26,285.4 361.2,285.95 361.15,286.5 361.09,287.05 361.04,287.6 360.98,288.15 360.93,288.7 360.87,289.25 360.82,289.8 360.76,290.35 360.71,290.9 360.65,291.45 360.6,292 360.54,292.55 360.49,293.1 360.43,293.65 360.38,294.2 360.32,294.75 360.27,295.3 360.21,295.85 360.16,296.4 360.1,296.95 360.05,297.5 359.99,298.05 359.94,298.6 359.88,299.15 359.83,299.7 359.75,300.25 359.65,300.8 359.55,301.35 359.45,301.9 359.35,302.45 359.25,303 359.15,303.55 359.05,304.1 358.94,304.65 358.84,305.2 358.74,305.75 358.64,306.3 358.54,306.85 358.44,307.4 358.34,307.95 358.24,308.5 358.13,309.05 358.03,309.6 357.93,310.15 357.83,310.7 357.73,311.25 357.63,311.8 357.53,312.35 357.43,312.9 357.33,313.45 357.22,314 357.12,314.55 357.02,315.1 356.92,315.65 356.82,316.2 356.72,316.75 356.62,317.3 356.52,317.85 356.41,318.4 356.31,318.95 356.21,319.5 356.11,320.05 356.01,320.6 355.91,321.15 355.81,321.7 355.71,322.25 355.6,322.8 355.5,323.35 355.4,323.9 355.3,324.45 355.2,325 355.12,325.55 355.05,326.1 354.97,326.65 354.89,327.2 354.81,327.75 354.74,328.3 354.66,328.85 354.58,329.4 354.51,329.95 354.43,330.5 354.35,331.05 354.28,331.6 354.2,332.15 354.12,332.7 354.04,333.25 353.97,333.8 353.89,334.35 353.81,334.9 353.74,335.45 353.66,336 353.58,336.55 353.51,337.1 353.43,337.65 353.35,338.2 353.27,338.75 353.2,339.3 353.12,339.85 353.04,340.4 352.97,340.95 352.89,341.5 352.81,342.05 352.74,342.6 352.66,343.15 352.58,343.7 352.5,344.25 352.43,344.8 352.33,345.35 352.21,345.9 352.1,346.45 351.98,347 351.86,347.55 351.75,348.1 351.63,348.65 351.52,349.2 351.4,349.75 351.29,350.3 351.17,350.85 351.06,351.4 350.94,351.95 350.82,352.5 350.71,353.05 350.59,353.6 350.48,354.15 350.36,354.7 350.25,355.25 350.13,355.8 350.02,356.35 349.9,356.9 349.79,357.45 349.67,358 349.55,358.55 349.44,359.1 349.32,359.65 349.21,360.2 349.09,360.75 348.98,361.3 348.86,361.85 348.75,362.4 348.63,362.95 348.51,363.5 348.4,364.05 348.28,364.6 348.19,365.15 348.16,365.7 348.12,366.25 348.09,366.8 348.06,367.35 348.02,367.9 347.99,368.45 347.95,369 347.92,369.55 347.89,370.1 347.85,370.65 347.82,371.2 347.78,371.75 347.75,372.3 347.72,372.85 347.68,373.4 347.65,373.95 347.62,374.5 347.58,375.05 347.55,375.6 347.51,376.15 347.48,376.7 347.45,377.25 347.41,377.8 349.41,377.8 349.42,377.25 349.44,376.7 349.46,376.15 349.47,375.6 349.49,375.05 349.51,374.5 349.52,373.95 349.54,373.4 349.56,372.85 349.58,372.3 349.59,371.75 349.61,371.2 349.63,370.65 349.64,370.1 349.66,369.55 349.68,369 349.69,368.45 349.71,367.9 349.73,367.35 349.74,366.8 349.76,366.25 349.78,365.7 349.8,365.15 349.87,364.6 349.97,364.05 350.06,363.5 350.16,362.95 350.25,362.4 350.35,361.85 350.45,361.3 350.54,360.75 350.64,360.2 350.74,359.65 350.83,359.1 350.93,358.55 351.02,358 351.12,357.45 351.22,356.9 351.31,356.35 351.41,355.8 351.51,355.25 351.6,354.7 351.7,354.15 351.79,353.6 351.89,353.05 351.99,352.5 352.08,351.95 352.18,351.4 352.28,350.85 352.37,350.3 352.47,349.75 352.56,349.2 352.66,348.65 352.76,348.1 352.85,347.55 352.95,347 353.05,346.45 353.14,345.9 353.24,345.35 353.34,344.8 353.45,344.25 353.56,343.7 353.67,343.15 353.78,342.6 353.89,342.05 354,341.5 354.11,340.95 354.22,340.4 354.33,339.85 354.44,339.3 354.55,338.75 354.66,338.2 354.77,337.65 354.88,337.1 354.99,336.55 355.1,336 355.21,335.45 355.32,334.9 355.43,334.35 355.54,333.8 355.65,333.25 355.76,332.7 355.87,332.15 355.98,331.6 356.09,331.05 356.2,330.5 356.31,329.95 356.42,329.4 356.53,328.85 356.64,328.3 356.75,327.75 356.86,327.2 356.97,326.65 357.08,326.1 357.19,325.55 357.3,325 357.4,324.45 357.51,323.9 357.61,323.35 357.71,322.8 357.82,322.25 357.92,321.7 358.02,321.15 358.13,320.6 358.23,320.05 358.33,319.5 358.44,318.95 358.54,318.4 358.64,317.85 358.75,317.3 358.85,316.75 358.95,316.2 359.06,315.65 359.16,315.1 359.26,314.55 359.37,314 359.47,313.45 359.57,312.9 359.68,312.35 359.78,311.8 359.88,311.25 359.99,310.7 360.09,310.15 360.2,309.6 360.3,309.05 360.4,308.5 360.51,307.95 360.61,307.4 360.71,306.85 360.82,306.3 360.92,305.75 361.02,305.2 361.13,304.65 361.23,304.1 361.33,303.55 361.44,303 361.54,302.45 361.64,301.9 361.75,301.35 361.85,300.8 361.95,300.25 362.04,299.7 362.1,299.15 362.17,298.6 362.23,298.05 362.3,297.5 362.37,296.95 362.43,296.4 362.5,295.85 362.56,295.3 362.63,294.75 362.7,294.2 362.76,293.65 362.83,293.1 362.89,292.55 362.96,292 363.03,291.45 363.09,290.9 363.16,290.35 363.22,289.8 363.29,289.25 363.36,288.7 363.42,288.15 363.49,287.6 363.55,287.05 363.62,286.5 363.69,285.95 363.75,285.4 363.82,284.85 363.88,284.3 363.95,283.75 364.02,283.2 364.08,282.65 364.15,282.1 364.21,281.55 364.28,281 364.35,280.45 364.41,279.9 364.49,279.35 364.56,278.8 364.63,278.25 364.7,277.7 364.78,277.15 364.85,276.6 364.92,276.05 365,275.5 365.07,274.95 365.14,274.4 365.21,273.85 365.29,273.3 365.36,272.75 365.43,272.2 365.51,271.65 365.58,271.1 365.65,270.55 365.72,270 365.8,269.45 365.87,268.9 365.94,268.35 366.02,267.8 366.09,267.25 366.16,266.7 366.23,266.15 366.31,265.6 366.38,265.05 366.45,264.5 366.53,263.95 366.6,263.4 366.67,262.85 366.74,262.3 366.82,261.75 366.89,261.2 366.96,260.65 367.03,260.1 367.11,259.55 367.18,259 367.25,258.45 367.33,257.9 367.4,257.35 367.47,256.8 367.54,256.25 367.62,255.7 367.69,255.15 367.76,254.6 367.84,254.05 367.91,253.5 367.98,252.95 368.05,252.4 368.13,251.85 368.2,251.3" fill="#008080" stroke="none"/>
<path d="M366.88 251.3H368.85M367.31 251.85H369.3M366.94 252.4H368.94M367.04 252.95H369.09M366.92 253.5H368.76M366.57 254.05H368.54M366.49 254.6H368.5M366.39 255.15H368.38M366.23 255.7H368.35M366.32 256.25H368.56M366.01 256.8H368.53M366 257.35H368.3M365.28 257.9H368.31M365.59 258.45H368.06M365.16 259H367.81M365.61 259.55H367.85M365.59 260.1H367.95M365.39 260.65H368.63M364.93 261.2H367.71M365.14 261.75H367.82M364.83 262.3H367.77M364.77 262.85H367.3M364.04 263.4H367.3M364.15 263.95H367.7M364.5 264.5H367.41M364.1 265.05H367.37M363.92 265.6H366.98M363.94 266.15H367.03M364.03 266.7H367.84M363.69 267.25H366.99M362.92 267.8H367.06M363.32 268.35H367.72M362.8 268.9H366.5M362.9 269.45H366.56M362.78 270H367.1M362.77 270.55H366.4M362.92 271.1H366.37M362.67 271.65H366.22M362.81 272.2H366.55M362.12 272.75H366.11M362.16 273.3H366.44M362.25 273.85H366.34M362.18 274.4H366.05M361.98 274.95H365.92M361.5 275.5H365.93M361.81 276.05H366.26M361.4 276.6H366.22M361.7 277.15H366.48M361.57 277.7H365.55M361.43 278.25H365.75M361.4 278.8H365.19M360.7 279.35H365.26M360.62 279.9H365.65M360.69 280.45H365.94M360.06 281H365.91M360.64 281.55H365.44M360.63 282.1H364.94M360.11 282.65H365.3M360.69 283.2H365.44M360.49 283.75H365.18M360.04 284.3H365.21M360.49 284.85H364.92M360.1 285.4H364.41M360.2 285.95H364.95M360.39 286.5H364.71M360.22 287.05H364.16M359.98 287.6H364.11M358.65 288.15H364.48M360.25 288.7H364.4M359.6 289.25H364.78M359.56 289.8H364.8M360.13 290.35H364.58M359.7 290.9H364.46M359.32 291.45H363.94M359.54 292H364.1M359.25 292.55H364.19M359.34 293.1H364M359.77 293.65H364.22M359.65 294.2H363.73M359.4 294.75H363.36M359.63 295.3H363.35M359.41 295.85H363.45M359.43 296.4H363.49M359.31 296.95H363.1M359.31 297.5H363.1M359.23 298.05H363.1M359.33 298.6H363.43M358.97 299.15H363.15M357.71 299.7H362.77M359 300.25H362.97M358.33 300.8H363.2M358.81 301.35H362.87M358.5 301.9H362.28M357.99 302.45H362.15M357.36 303H362.48M357.87 303.55H362.02M358.42 304.1H362.27M357.91 304.65H362.07M357.54 305.2H362.76M357.63 305.75H362.34M357.72 306.3H361.79M357.32 306.85H361.48M357.14 307.4H361.66M357.72 307.95H361.75M357.37 308.5H361.82M357.53 309.05H360.93M357.43 309.6H360.85M356.71 310.15H361.33M356.17 310.7H361.19M357.02 311.25H361.31M356.81 311.8H360.86M356.66 312.35H360.96M356.71 312.9H360.65M356.36 313.45H360.46M356.52 314H360.32M356.1 314.55H359.94M355.63 315.1H359.8M356.16 315.65H359.68M355.71 316.2H359.58M354.65 316.75H360.13M355.95 317.3H359.73M355.51 317.85H359.65M355.06 318.4H359.96M355.11 318.95H359.51M355.22 319.5H358.94M354.47 320.05H359.75M355.08 320.6H358.74M354.99 321.15H358.69M355 321.7H359.05M354.73 322.25H358.94M354.44 322.8H358.72M354.71 323.35H358.37M354.55 323.9H358.73M354.5 324.45H358.26M353.93 325H357.95M354.26 325.55H358.25M354.44 326.1H358.27M353.58 326.65H357.62M354.04 327.2H358.46M353.88 327.75H358.03M354.12 328.3H357.95M353.34 328.85H357.5M353.92 329.4H357.17M353.66 329.95H357.81M352.61 330.5H357.34M352.55 331.05H356.84M353.33 331.6H357.15M353.2 332.15H356.81M353.12 332.7H357.02M353.39 333.25H356.37M353.15 333.8H356.96M353 334.35H356.8M352.51 334.9H356.35M352.3 335.45H356.25M353.03 336H355.76M352.71 336.55H355.7M352.38 337.1H355.5M352.4 337.65H356.11M352 338.2H356.2M351.77 338.75H356.26M352.13 339.3H355.13M351.7 339.85H355.19M351.93 340.4H355.3M351.92 340.95H355.31M351.31 341.5H355.16M352.02 342.05H354.49M351.99 342.6H354.73M351.87 343.15H354.33M351.68 343.7H354.71M351.17 344.25H354.29M350.31 344.8H354.05M351.63 345.35H354.61M351.46 345.9H353.88M351.31 346.45H353.89M350.53 347H353.92M350.72 347.55H354.56M350.59 348.1H353.53M350.59 348.65H353.45M350.29 349.2H353.62M350.09 349.75H353.8M350.08 350.3H353.08M350 350.85H352.98M350.03 351.4H353.59M349.78 351.95H352.94M349.69 352.5H352.91M349.95 353.05H353.24M349.06 353.6H352.99M349.3 354.15H352.33M348.92 354.7H352.5M348.95 355.25H352.62M348.74 355.8H352.29M348.9 356.35H352.05M348.84 356.9H351.86M349.12 357.45H352M348.34 358H352.33M348.47 358.55H351.63M348.5 359.1H351.62M348.27 359.65H352.1M348.32 360.2H351.5M348.14 360.75H351.17M348.07 361.3H351.32M347.41 361.85H351.04M347.99 362.4H351.2M347.96 362.95H350.94M347.15 363.5H351.06M347.67 364.05H350.64M347.64 364.6H351.45M347.11 365.15H351.08M346.29 365.7H350.66M347.35 366.25H350.67M347.45 366.8H350.65M347.06 367.35H350.39M347.39 367.9H350.58M347.32 368.45H350.59M346.91 369H350.29M347.25 369.55H350.33M346.81 370.1H350.43M347.13 370.65H350.31M347.03 371.2H350.39M346.32 371.75H350.22M346.38 372.3H350.68M346.99 372.85H350.54M346.32 373.4H350.53M346.66 373.95H350.79M346.68 374.5H350.82M346.61 375.05H350.46M346.68 375.6H350.75M346.33 376.15H350.78M346.72 376.7H350.2M346.49 377.25H350.26M346.79 377.8H350.15" stroke="#008080" stroke-width="0.9" fill="none"/>
<polyline points="348.5,378 348,355 348.8,376" fill="none" stroke="#008080" stroke-width="1.6" stroke-linejoin="round" />
<text transform="translate(351.9,249.85) scale(1,1.06)" font-size="11.8" text-anchor="start" font-family="Liberation Sans" font-weight="bold" >47 s</text>
<text transform="translate(387.5,249.85) scale(1,1.06)" font-size="11.8" text-anchor="start" font-family="Liberation Sans" font-weight="bold" >88 s</text>
<text transform="translate(428.7,249.85) scale(1,1.06)" font-size="11.8" text-anchor="start" font-family="Liberation Sans" font-weight="bold" >193 s</text>
<text transform="translate(491.9,249.85) scale(1,1.06)" font-size="11.8" text-anchor="start" font-family="Liberation Sans" font-weight="bold" >380 s</text>
<line x1="477.6" y1="329.9" x2="498.4" y2="329.9" stroke="#000" stroke-width="1.5"/>
<text transform="translate(506.7,329.14) scale(1,1.06)" font-size="11.5" text-anchor="start" font-family="Liberation Sans" font-weight="bold" >T0</text>
<line x1="477.6" y1="340.8" x2="498.4" y2="340.8" stroke="#ff0000" stroke-width="1.5"/>
<text transform="translate(506.7,342.94) scale(1,1.06)" font-size="11.5" text-anchor="start" font-family="Liberation Sans" font-weight="bold" >T2</text>
<line x1="477.6" y1="352.8" x2="498.4" y2="352.8" stroke="#0000ff" stroke-width="1.5"/>
<text transform="translate(506.7,357.74) scale(1,1.06)" font-size="11.5" text-anchor="start" font-family="Liberation Sans" font-weight="bold" >T4</text>
<line x1="477.6" y1="364" x2="498.4" y2="364" stroke="#008080" stroke-width="1.5"/>
<text transform="translate(506.7,371.54) scale(1,1.06)" font-size="11.5" text-anchor="start" font-family="Liberation Sans" font-weight="bold" >T8</text>
<rect x="391.8" y="355.6" width="26.1" height="8.1" fill="#fff" stroke="#1a1a1a" stroke-width="1.15"/>
<text x="404.8" y="361.8" font-size="5.8" text-anchor="middle" font-family="Liberation Sans" font-weight="bold" fill="#333">TENG</text>
<polyline points="404.1,355.6 404.1,349.9 430.2,349.9 430.2,351.4" fill="none" stroke="#1a1a1a" stroke-width="1.15" stroke-linejoin="round" />
<polyline points="404.1,363.7 404.1,372.9 430.2,372.9" fill="none" stroke="#1a1a1a" stroke-width="1.15" stroke-linejoin="round" />
<polyline points="430.2,351.4 421,362.2 430.2,372.9 439.4,362.2 430.2,351.4" fill="none" stroke="#1a1a1a" stroke-width="1.15" stroke-linejoin="round" />
<polygon points="425.12,354.29 428.16,356.88 424.69,357.87" fill="#1a1a1a" stroke="none"/>
<polyline points="423.02,356.44 426.37,359.29" fill="none" stroke="#1a1a1a" stroke-width="1.0" stroke-linejoin="round" />
<polygon points="423.04,367.64 426.07,365.03 426.51,368.61" fill="#1a1a1a" stroke="none"/>
<polyline points="424.84,370.05 428.18,367.18" fill="none" stroke="#1a1a1a" stroke-width="1.0" stroke-linejoin="round" />
<polygon points="432.24,356.88 435.28,354.29 435.71,357.87" fill="#1a1a1a" stroke="none"/>
<polyline points="434.03,359.29 437.38,356.44" fill="none" stroke="#1a1a1a" stroke-width="1.0" stroke-linejoin="round" />
<polygon points="434.33,365.03 437.36,367.64 433.89,368.61" fill="#1a1a1a" stroke="none"/>
<polyline points="432.22,367.18 435.56,370.05" fill="none" stroke="#1a1a1a" stroke-width="1.0" stroke-linejoin="round" />
<polyline points="421,362.2 421,376.8 440.4,376.8" fill="none" stroke="#1a1a1a" stroke-width="1.15" stroke-linejoin="round" />
<polyline points="439.4,362.2 440.3,362.2 440.3,350.1 446.8,350.1" fill="none" stroke="#1a1a1a" stroke-width="1.15" stroke-linejoin="round" />
<polyline points="451.5,350.1 455.5,350.1 455.5,368.8 451.7,368.8" fill="none" stroke="#1a1a1a" stroke-width="1.15" stroke-linejoin="round" />
<polyline points="455.5,356.2 463.4,356.2 463.4,365.2" fill="none" stroke="#1a1a1a" stroke-width="1.15" stroke-linejoin="round" />
<polyline points="458,364.9 469.6,364.9" fill="none" stroke="#1a1a1a" stroke-width="1.3" stroke-linejoin="round" />
<polyline points="458,373.1 469.6,373.1" fill="none" stroke="#1a1a1a" stroke-width="1.3" stroke-linejoin="round" />
<polyline points="463.4,372.8 463.4,379.7 441.1,379.7" fill="none" stroke="#1a1a1a" stroke-width="1.15" stroke-linejoin="round" />
<polyline points="446.8,358.4 444.3,358.4 444.3,374.6 447,374.6" fill="none" stroke="#1a1a1a" stroke-width="1.15" stroke-linejoin="round" />
<polyline points="442.8,366.7 440.6,367.6 440.6,376.1 442.1,378.4 441.1,379.7" fill="none" stroke="#1a1a1a" stroke-width="1.15" stroke-linejoin="round" />
<rect x="446.5" y="353.9" width="5.8" height="2.4" fill="#1a1a1a"/>
<polyline points="449.4,353.5 449.4,356.7" fill="none" stroke="#1a1a1a" stroke-width="0.8" stroke-linejoin="round" />
<rect x="446.5" y="360" width="5.8" height="2.4" fill="#1a1a1a"/>
<polyline points="449.4,359.6 449.4,362.8" fill="none" stroke="#1a1a1a" stroke-width="0.8" stroke-linejoin="round" />
<rect x="446.5" y="371.6" width="5.8" height="2.4" fill="#1a1a1a"/>
<polyline points="449.4,371.2 449.4,374.4" fill="none" stroke="#1a1a1a" stroke-width="0.8" stroke-linejoin="round" />
<polyline points="449.4,363 449.4,368.1" fill="none" stroke="#555" stroke-width="0.7" stroke-linejoin="round" />
<text x="463.8" y="371" font-size="5.6" text-anchor="middle" font-family="Liberation Sans" font-weight="bold" fill="#444">10 μF</text>
<polyline points="446.8,349.7 449,351.1 450.1,353.7" fill="none" stroke="#ff0000" stroke-width="1.1" stroke-linejoin="round" />
<polyline points="449.4,356.6 449.7,358.6 449.4,360.2" fill="none" stroke="#ff0000" stroke-width="1.1" stroke-linejoin="round" />
<polyline points="449.8,368.1 449.2,370.1 448.4,371.7" fill="none" stroke="#ff0000" stroke-width="1.1" stroke-linejoin="round" />
<polyline points="449,374.1 448.3,375.8 446.8,376.8" fill="none" stroke="#ff0000" stroke-width="1.1" stroke-linejoin="round" />
<text transform="translate(0.3,444.9) scale(1,1.0)" font-size="17.5" text-anchor="start" font-family="Liberation Sans" font-weight="bold" ><tspan font-weight="normal" stroke="#000" stroke-width="0.4">(</tspan>e<tspan font-weight="normal" stroke="#000" stroke-width="0.4">)</tspan></text>
<line x1="58.86" y1="605.4" x2="58.86" y2="603.6" stroke="#000" stroke-width="1.15"/>
<line x1="61.04" y1="605.4" x2="61.04" y2="603.6" stroke="#000" stroke-width="1.15"/>
<line x1="62.94" y1="605.4" x2="62.94" y2="603.6" stroke="#000" stroke-width="1.15"/>
<line x1="64.61" y1="605.4" x2="64.61" y2="603.6" stroke="#000" stroke-width="1.15"/>
<line x1="66.1" y1="605.4" x2="66.1" y2="602.2" stroke="#000" stroke-width="1.15"/>
<line x1="75.93" y1="605.4" x2="75.93" y2="603.6" stroke="#000" stroke-width="1.15"/>
<line x1="81.68" y1="605.4" x2="81.68" y2="603.6" stroke="#000" stroke-width="1.15"/>
<line x1="85.76" y1="605.4" x2="85.76" y2="603.6" stroke="#000" stroke-width="1.15"/>
<line x1="88.92" y1="605.4" x2="88.92" y2="603.6" stroke="#000" stroke-width="1.15"/>
<line x1="91.51" y1="605.4" x2="91.51" y2="603.6" stroke="#000" stroke-width="1.15"/>
<line x1="93.69" y1="605.4" x2="93.69" y2="603.6" stroke="#000" stroke-width="1.15"/>
<line x1="95.59" y1="605.4" x2="95.59" y2="603.6" stroke="#000" stroke-width="1.15"/>
<line x1="97.26" y1="605.4" x2="97.26" y2="603.6" stroke="#000" stroke-width="1.15"/>
<line x1="98.75" y1="605.4" x2="98.75" y2="602.2" stroke="#000" stroke-width="1.15"/>
<line x1="108.58" y1="605.4" x2="108.58" y2="603.6" stroke="#000" stroke-width="1.15"/>
<line x1="114.33" y1="605.4" x2="114.33" y2="603.6" stroke="#000" stroke-width="1.15"/>
<line x1="118.41" y1="605.4" x2="118.41" y2="603.6" stroke="#000" stroke-width="1.15"/>
<line x1="121.57" y1="605.4" x2="121.57" y2="603.6" stroke="#000" stroke-width="1.15"/>
<line x1="124.16" y1="605.4" x2="124.16" y2="603.6" stroke="#000" stroke-width="1.15"/>
<line x1="126.34" y1="605.4" x2="126.34" y2="603.6" stroke="#000" stroke-width="1.15"/>
<line x1="128.24" y1="605.4" x2="128.24" y2="603.6" stroke="#000" stroke-width="1.15"/>
<line x1="129.91" y1="605.4" x2="129.91" y2="603.6" stroke="#000" stroke-width="1.15"/>
<line x1="131.4" y1="605.4" x2="131.4" y2="602.2" stroke="#000" stroke-width="1.15"/>
<line x1="141.23" y1="605.4" x2="141.23" y2="603.6" stroke="#000" stroke-width="1.15"/>
<line x1="146.98" y1="605.4" x2="146.98" y2="603.6" stroke="#000" stroke-width="1.15"/>
<line x1="151.06" y1="605.4" x2="151.06" y2="603.6" stroke="#000" stroke-width="1.15"/>
<line x1="154.22" y1="605.4" x2="154.22" y2="603.6" stroke="#000" stroke-width="1.15"/>
<line x1="156.81" y1="605.4" x2="156.81" y2="603.6" stroke="#000" stroke-width="1.15"/>
<line x1="158.99" y1="605.4" x2="158.99" y2="603.6" stroke="#000" stroke-width="1.15"/>
<line x1="160.89" y1="605.4" x2="160.89" y2="603.6" stroke="#000" stroke-width="1.15"/>
<line x1="162.56" y1="605.4" x2="162.56" y2="603.6" stroke="#000" stroke-width="1.15"/>
<line x1="164.05" y1="605.4" x2="164.05" y2="602.2" stroke="#000" stroke-width="1.15"/>
<line x1="173.88" y1="605.4" x2="173.88" y2="603.6" stroke="#000" stroke-width="1.15"/>
<line x1="179.63" y1="605.4" x2="179.63" y2="603.6" stroke="#000" stroke-width="1.15"/>
<line x1="183.71" y1="605.4" x2="183.71" y2="603.6" stroke="#000" stroke-width="1.15"/>
<line x1="186.87" y1="605.4" x2="186.87" y2="603.6" stroke="#000" stroke-width="1.15"/>
<line x1="189.46" y1="605.4" x2="189.46" y2="603.6" stroke="#000" stroke-width="1.15"/>
<line x1="191.64" y1="605.4" x2="191.64" y2="603.6" stroke="#000" stroke-width="1.15"/>
<line x1="193.54" y1="605.4" x2="193.54" y2="603.6" stroke="#000" stroke-width="1.15"/>
<line x1="195.21" y1="605.4" x2="195.21" y2="603.6" stroke="#000" stroke-width="1.15"/>
<line x1="196.7" y1="605.4" x2="196.7" y2="602.2" stroke="#000" stroke-width="1.15"/>
<line x1="206.53" y1="605.4" x2="206.53" y2="603.6" stroke="#000" stroke-width="1.15"/>
<line x1="212.28" y1="605.4" x2="212.28" y2="603.6" stroke="#000" stroke-width="1.15"/>
<line x1="216.36" y1="605.4" x2="216.36" y2="603.6" stroke="#000" stroke-width="1.15"/>
<line x1="219.52" y1="605.4" x2="219.52" y2="603.6" stroke="#000" stroke-width="1.15"/>
<line x1="222.11" y1="605.4" x2="222.11" y2="603.6" stroke="#000" stroke-width="1.15"/>
<line x1="224.29" y1="605.4" x2="224.29" y2="603.6" stroke="#000" stroke-width="1.15"/>
<line x1="226.19" y1="605.4" x2="226.19" y2="603.6" stroke="#000" stroke-width="1.15"/>
<line x1="227.86" y1="605.4" x2="227.86" y2="603.6" stroke="#000" stroke-width="1.15"/>
<line x1="229.35" y1="605.4" x2="229.35" y2="602.2" stroke="#000" stroke-width="1.15"/>
<line x1="239.18" y1="605.4" x2="239.18" y2="603.6" stroke="#000" stroke-width="1.15"/>
<line x1="244.93" y1="605.4" x2="244.93" y2="603.6" stroke="#000" stroke-width="1.15"/>
<line x1="249.01" y1="605.4" x2="249.01" y2="603.6" stroke="#000" stroke-width="1.15"/>
<line x1="252.17" y1="605.4" x2="252.17" y2="603.6" stroke="#000" stroke-width="1.15"/>
<line x1="254.76" y1="605.4" x2="254.76" y2="603.6" stroke="#000" stroke-width="1.15"/>
<line x1="256.94" y1="605.4" x2="256.94" y2="603.6" stroke="#000" stroke-width="1.15"/>
<line x1="258.84" y1="605.4" x2="258.84" y2="603.6" stroke="#000" stroke-width="1.15"/>
<line x1="260.51" y1="605.4" x2="260.51" y2="603.6" stroke="#000" stroke-width="1.15"/>
<line x1="262" y1="605.4" x2="262" y2="602.2" stroke="#000" stroke-width="1.15"/>
<line x1="56.9" y1="596.25" x2="58.7" y2="596.25" stroke="#000" stroke-width="1.15"/>
<line x1="56.9" y1="590.9" x2="58.7" y2="590.9" stroke="#000" stroke-width="1.15"/>
<line x1="56.9" y1="587.1" x2="58.7" y2="587.1" stroke="#000" stroke-width="1.15"/>
<line x1="56.9" y1="584.15" x2="58.7" y2="584.15" stroke="#000" stroke-width="1.15"/>
<line x1="56.9" y1="581.74" x2="58.7" y2="581.74" stroke="#000" stroke-width="1.15"/>
<line x1="56.9" y1="579.71" x2="58.7" y2="579.71" stroke="#000" stroke-width="1.15"/>
<line x1="56.9" y1="577.95" x2="58.7" y2="577.95" stroke="#000" stroke-width="1.15"/>
<line x1="56.9" y1="576.39" x2="58.7" y2="576.39" stroke="#000" stroke-width="1.15"/>
<line x1="56.9" y1="575" x2="60.1" y2="575" stroke="#000" stroke-width="1.15"/>
<line x1="56.9" y1="565.85" x2="58.7" y2="565.85" stroke="#000" stroke-width="1.15"/>
<line x1="56.9" y1="560.5" x2="58.7" y2="560.5" stroke="#000" stroke-width="1.15"/>
<line x1="56.9" y1="556.7" x2="58.7" y2="556.7" stroke="#000" stroke-width="1.15"/>
<line x1="56.9" y1="553.75" x2="58.7" y2="553.75" stroke="#000" stroke-width="1.15"/>
<line x1="56.9" y1="551.34" x2="58.7" y2="551.34" stroke="#000" stroke-width="1.15"/>
<line x1="56.9" y1="549.31" x2="58.7" y2="549.31" stroke="#000" stroke-width="1.15"/>
<line x1="56.9" y1="547.55" x2="58.7" y2="547.55" stroke="#000" stroke-width="1.15"/>
<line x1="56.9" y1="545.99" x2="58.7" y2="545.99" stroke="#000" stroke-width="1.15"/>
<line x1="56.9" y1="544.6" x2="60.1" y2="544.6" stroke="#000" stroke-width="1.15"/>
<line x1="56.9" y1="535.45" x2="58.7" y2="535.45" stroke="#000" stroke-width="1.15"/>
<line x1="56.9" y1="530.1" x2="58.7" y2="530.1" stroke="#000" stroke-width="1.15"/>
<line x1="56.9" y1="526.3" x2="58.7" y2="526.3" stroke="#000" stroke-width="1.15"/>
<line x1="56.9" y1="523.35" x2="58.7" y2="523.35" stroke="#000" stroke-width="1.15"/>
<line x1="56.9" y1="520.94" x2="58.7" y2="520.94" stroke="#000" stroke-width="1.15"/>
<line x1="56.9" y1="518.91" x2="58.7" y2="518.91" stroke="#000" stroke-width="1.15"/>
<line x1="56.9" y1="517.15" x2="58.7" y2="517.15" stroke="#000" stroke-width="1.15"/>
<line x1="56.9" y1="515.59" x2="58.7" y2="515.59" stroke="#000" stroke-width="1.15"/>
<line x1="56.9" y1="514.2" x2="60.1" y2="514.2" stroke="#000" stroke-width="1.15"/>
<line x1="56.9" y1="505.05" x2="58.7" y2="505.05" stroke="#000" stroke-width="1.15"/>
<line x1="56.9" y1="499.7" x2="58.7" y2="499.7" stroke="#000" stroke-width="1.15"/>
<line x1="56.9" y1="495.9" x2="58.7" y2="495.9" stroke="#000" stroke-width="1.15"/>
<line x1="56.9" y1="492.95" x2="58.7" y2="492.95" stroke="#000" stroke-width="1.15"/>
<line x1="56.9" y1="490.54" x2="58.7" y2="490.54" stroke="#000" stroke-width="1.15"/>
<line x1="56.9" y1="488.51" x2="58.7" y2="488.51" stroke="#000" stroke-width="1.15"/>
<line x1="56.9" y1="486.75" x2="58.7" y2="486.75" stroke="#000" stroke-width="1.15"/>
<line x1="56.9" y1="485.19" x2="58.7" y2="485.19" stroke="#000" stroke-width="1.15"/>
<line x1="56.9" y1="483.8" x2="60.1" y2="483.8" stroke="#000" stroke-width="1.15"/>
<line x1="56.9" y1="474.65" x2="58.7" y2="474.65" stroke="#000" stroke-width="1.15"/>
<line x1="56.9" y1="469.3" x2="58.7" y2="469.3" stroke="#000" stroke-width="1.15"/>
<line x1="56.9" y1="465.5" x2="58.7" y2="465.5" stroke="#000" stroke-width="1.15"/>
<line x1="56.9" y1="462.55" x2="58.7" y2="462.55" stroke="#000" stroke-width="1.15"/>
<line x1="56.9" y1="460.14" x2="58.7" y2="460.14" stroke="#000" stroke-width="1.15"/>
<line x1="56.9" y1="458.11" x2="58.7" y2="458.11" stroke="#000" stroke-width="1.15"/>
<line x1="56.9" y1="456.35" x2="58.7" y2="456.35" stroke="#000" stroke-width="1.15"/>
<line x1="56.9" y1="454.79" x2="58.7" y2="454.79" stroke="#000" stroke-width="1.15"/>
<rect x="56.9" y="453.5" width="205.8" height="151.9" fill="none" stroke="#000" stroke-width="1.4"/>
<text transform="translate(49.6,458.8) scale(1,1.06)" font-size="11" text-anchor="end" font-family="Liberation Sans" font-weight="bold">10<tspan font-size="8" dy="-5.6">1</tspan></text>
<text transform="translate(49.6,488.35) scale(1,1.06)" font-size="11" text-anchor="end" font-family="Liberation Sans" font-weight="bold">10<tspan font-size="8" dy="-5.6">0</tspan></text>
<text transform="translate(50.2,519.4) scale(1,1.06)" font-size="11" text-anchor="end" font-family="Liberation Sans" font-weight="bold">10<tspan font-size="8" dy="-5.6">-1</tspan></text>
<text transform="translate(50.8,549.3) scale(1,1.06)" font-size="11" text-anchor="end" font-family="Liberation Sans" font-weight="bold">10<tspan font-size="8" dy="-5.6">-2</tspan></text>
<text transform="translate(50.8,579.7) scale(1,1.06)" font-size="11" text-anchor="end" font-family="Liberation Sans" font-weight="bold">10<tspan font-size="8" dy="-5.6">-3</tspan></text>
<text transform="translate(50.8,609.5) scale(1,1.06)" font-size="11" text-anchor="end" font-family="Liberation Sans" font-weight="bold">10<tspan font-size="8" dy="-5.6">-4</tspan></text>
<text transform="translate(66.9,623.1) scale(1,1.06)" font-size="11" text-anchor="middle" font-family="Liberation Sans" font-weight="bold">10<tspan font-size="8" dy="-5.6">4</tspan></text>
<text transform="translate(99.7,623.1) scale(1,1.06)" font-size="11" text-anchor="middle" font-family="Liberation Sans" font-weight="bold">10<tspan font-size="8" dy="-5.6">5</tspan></text>
<text transform="translate(132.5,623.1) scale(1,1.06)" font-size="11" text-anchor="middle" font-family="Liberation Sans" font-weight="bold">10<tspan font-size="8" dy="-5.6">6</tspan></text>
<text transform="translate(165.3,623.1) scale(1,1.06)" font-size="11" text-anchor="middle" font-family="Liberation Sans" font-weight="bold">10<tspan font-size="8" dy="-5.6">7</tspan></text>
<text transform="translate(198.1,623.1) scale(1,1.06)" font-size="11" text-anchor="middle" font-family="Liberation Sans" font-weight="bold">10<tspan font-size="8" dy="-5.6">8</tspan></text>
<text transform="translate(230.9,623.1) scale(1,1.06)" font-size="11" text-anchor="middle" font-family="Liberation Sans" font-weight="bold">10<tspan font-size="8" dy="-5.6">9</tspan></text>
<text transform="translate(263.7,623.1) scale(1,1.06)" font-size="11" text-anchor="middle" font-family="Liberation Sans" font-weight="bold">10<tspan font-size="8" dy="-5.6">10</tspan></text>
<text transform="translate(152,641.4) scale(1,1.0)" font-size="14" text-anchor="middle" font-family="Liberation Sans" font-weight="bold" >Resistor <tspan font-weight="normal">(</tspan><tspan font-weight="normal">Ω</tspan><tspan font-weight="normal">)</tspan></text>
<text transform="translate(19.8,529) rotate(-90)" x="0" y="0" font-size="14.3" text-anchor="middle" font-family="Liberation Sans" font-weight="bold">Energy on load <tspan font-weight="normal">(</tspan><tspan font-weight="normal">μ</tspan>J<tspan font-weight="normal">)</tspan></text>
<line x1="69.4" y1="585.79" x2="95.45" y2="562.81" stroke="#000" stroke-width="1.35"/>
<line x1="102.21" y1="557.18" x2="127.94" y2="536.92" stroke="#000" stroke-width="1.35"/>
<line x1="134.82" y1="531.43" x2="160.63" y2="510.57" stroke="#000" stroke-width="1.35"/>
<line x1="167.79" y1="505.49" x2="192.96" y2="489.91" stroke="#000" stroke-width="1.35"/>
<line x1="200.1" y1="484.8" x2="216.13" y2="471.6" stroke="#000" stroke-width="1.35"/>
<line x1="223.71" y1="467.44" x2="225.17" y2="466.96" stroke="#000" stroke-width="1.35"/>
<line x1="233.75" y1="465.75" x2="247.78" y2="466.25" stroke="#000" stroke-width="1.35"/>
<rect x="63.4" y="586" width="5.4" height="5.4" fill="#000"/>
<rect x="96.05" y="557.2" width="5.4" height="5.4" fill="#000"/>
<rect x="128.7" y="531.5" width="5.4" height="5.4" fill="#000"/>
<rect x="161.35" y="505.1" width="5.4" height="5.4" fill="#000"/>
<rect x="194" y="484.9" width="5.4" height="5.4" fill="#000"/>
<rect x="216.82" y="466.1" width="5.4" height="5.4" fill="#000"/>
<rect x="226.65" y="462.9" width="5.4" height="5.4" fill="#000"/>
<rect x="249.47" y="463.7" width="5.4" height="5.4" fill="#000"/>
<line x1="70.47" y1="486.39" x2="94.38" y2="483.61" stroke="#ff0000" stroke-width="1.35"/>
<line x1="103.14" y1="482.83" x2="127.01" y2="481.37" stroke="#ff0000" stroke-width="1.35"/>
<line x1="135.77" y1="480.59" x2="159.68" y2="477.81" stroke="#ff0000" stroke-width="1.35"/>
<line x1="168.45" y1="477.3" x2="192.3" y2="477.3" stroke="#ff0000" stroke-width="1.35"/>
<circle cx="66.1" cy="486.9" r="3.3" fill="#ff0000"/>
<circle cx="98.75" cy="483.1" r="3.3" fill="#ff0000"/>
<circle cx="131.4" cy="481.1" r="3.3" fill="#ff0000"/>
<circle cx="164.05" cy="477.3" r="3.3" fill="#ff0000"/>
<circle cx="196.7" cy="477.3" r="3.3" fill="#ff0000"/>
<line x1="70.4" y1="486.45" x2="94.45" y2="481.15" stroke="#0000ff" stroke-width="1.35"/>
<line x1="103.07" y1="479.38" x2="127.08" y2="474.82" stroke="#0000ff" stroke-width="1.35"/>
<line x1="135.8" y1="473.81" x2="159.65" y2="472.79" stroke="#0000ff" stroke-width="1.35"/>
<line x1="168.45" y1="472.6" x2="192.3" y2="472.6" stroke="#0000ff" stroke-width="1.35"/>
<polygon points="62.3,490.7 69.9,490.7 66.1,484.1" fill="#0000ff" stroke="none"/>
<polygon points="94.95,483.5 102.55,483.5 98.75,476.9" fill="#0000ff" stroke="none"/>
<polygon points="127.6,477.3 135.2,477.3 131.4,470.7" fill="#0000ff" stroke="none"/>
<polygon points="160.25,475.9 167.85,475.9 164.05,469.3" fill="#0000ff" stroke="none"/>
<polygon points="192.9,475.9 200.5,475.9 196.7,469.3" fill="#0000ff" stroke="none"/>
<line x1="70.44" y1="484.16" x2="94.41" y2="480.04" stroke="#008080" stroke-width="1.35"/>
<line x1="103.1" y1="478.63" x2="127.05" y2="474.97" stroke="#008080" stroke-width="1.35"/>
<line x1="135.8" y1="474.12" x2="159.65" y2="473.18" stroke="#008080" stroke-width="1.35"/>
<line x1="168.45" y1="473" x2="192.3" y2="473" stroke="#008080" stroke-width="1.35"/>
<polygon points="62.3,481.6 69.9,481.6 66.1,488.2" fill="#008080" stroke="none"/>
<polygon points="94.95,476 102.55,476 98.75,482.6" fill="#008080" stroke="none"/>
<polygon points="127.6,471 135.2,471 131.4,477.6" fill="#008080" stroke="none"/>
<polygon points="160.25,469.7 167.85,469.7 164.05,476.3" fill="#008080" stroke="none"/>
<polygon points="192.9,469.7 200.5,469.7 196.7,476.3" fill="#008080" stroke="none"/>
<line x1="207.5" y1="549.1" x2="215.2" y2="549.1" stroke="#000" stroke-width="1.3"/>
<line x1="221.8" y1="549.1" x2="229.5" y2="549.1" stroke="#000" stroke-width="1.3"/>
<rect x="215.8" y="546.4" width="5.4" height="5.4" fill="#000"/>
<text transform="translate(238.3,548.74) scale(1,1.06)" font-size="11.5" text-anchor="start" font-family="Liberation Sans" font-weight="bold" >T0</text>
<line x1="207.5" y1="561" x2="215.2" y2="561" stroke="#ff0000" stroke-width="1.3"/>
<line x1="221.8" y1="561" x2="229.5" y2="561" stroke="#ff0000" stroke-width="1.3"/>
<circle cx="218.5" cy="561" r="3.3" fill="#ff0000"/>
<text transform="translate(238.3,563.34) scale(1,1.06)" font-size="11.5" text-anchor="start" font-family="Liberation Sans" font-weight="bold" >T2</text>
<line x1="207.5" y1="572.5" x2="215.2" y2="572.5" stroke="#0000ff" stroke-width="1.3"/>
<line x1="221.8" y1="572.5" x2="229.5" y2="572.5" stroke="#0000ff" stroke-width="1.3"/>
<polygon points="214.7,575 222.3,575 218.5,568.4" fill="#0000ff" stroke="none"/>
<text transform="translate(238.3,577.94) scale(1,1.06)" font-size="11.5" text-anchor="start" font-family="Liberation Sans" font-weight="bold" >T4</text>
<line x1="207.5" y1="585.2" x2="215.2" y2="585.2" stroke="#008080" stroke-width="1.3"/>
<line x1="221.8" y1="585.2" x2="229.5" y2="585.2" stroke="#008080" stroke-width="1.3"/>
<polygon points="214.7,582.7 222.3,582.7 218.5,589.3" fill="#008080" stroke="none"/>
<text transform="translate(238.3,591.94) scale(1,1.06)" font-size="11.5" text-anchor="start" font-family="Liberation Sans" font-weight="bold" >T8</text>
<text transform="translate(295.5,444.5) scale(1,1.0)" font-size="17.5" text-anchor="start" font-family="Liberation Sans" font-weight="bold" ><tspan font-weight="normal" stroke="#000" stroke-width="0.4">(</tspan>f<tspan font-weight="normal" stroke="#000" stroke-width="0.4">)</tspan></text>
<line x1="341.79" y1="604.9" x2="341.79" y2="603.1" stroke="#000" stroke-width="1.15"/>
<line x1="343.91" y1="604.9" x2="343.91" y2="603.1" stroke="#000" stroke-width="1.15"/>
<line x1="345.78" y1="604.9" x2="345.78" y2="603.1" stroke="#000" stroke-width="1.15"/>
<line x1="347.45" y1="604.9" x2="347.45" y2="601.7" stroke="#000" stroke-width="1.15"/>
<line x1="358.45" y1="604.9" x2="358.45" y2="603.1" stroke="#000" stroke-width="1.15"/>
<line x1="364.89" y1="604.9" x2="364.89" y2="603.1" stroke="#000" stroke-width="1.15"/>
<line x1="369.46" y1="604.9" x2="369.46" y2="603.1" stroke="#000" stroke-width="1.15"/>
<line x1="373" y1="604.9" x2="373" y2="603.1" stroke="#000" stroke-width="1.15"/>
<line x1="375.89" y1="604.9" x2="375.89" y2="603.1" stroke="#000" stroke-width="1.15"/>
<line x1="378.34" y1="604.9" x2="378.34" y2="603.1" stroke="#000" stroke-width="1.15"/>
<line x1="380.46" y1="604.9" x2="380.46" y2="603.1" stroke="#000" stroke-width="1.15"/>
<line x1="382.33" y1="604.9" x2="382.33" y2="603.1" stroke="#000" stroke-width="1.15"/>
<line x1="384" y1="604.9" x2="384" y2="601.7" stroke="#000" stroke-width="1.15"/>
<line x1="395" y1="604.9" x2="395" y2="603.1" stroke="#000" stroke-width="1.15"/>
<line x1="401.44" y1="604.9" x2="401.44" y2="603.1" stroke="#000" stroke-width="1.15"/>
<line x1="406.01" y1="604.9" x2="406.01" y2="603.1" stroke="#000" stroke-width="1.15"/>
<line x1="409.55" y1="604.9" x2="409.55" y2="603.1" stroke="#000" stroke-width="1.15"/>
<line x1="412.44" y1="604.9" x2="412.44" y2="603.1" stroke="#000" stroke-width="1.15"/>
<line x1="414.89" y1="604.9" x2="414.89" y2="603.1" stroke="#000" stroke-width="1.15"/>
<line x1="417.01" y1="604.9" x2="417.01" y2="603.1" stroke="#000" stroke-width="1.15"/>
<line x1="418.88" y1="604.9" x2="418.88" y2="603.1" stroke="#000" stroke-width="1.15"/>
<line x1="420.55" y1="604.9" x2="420.55" y2="601.7" stroke="#000" stroke-width="1.15"/>
<line x1="431.55" y1="604.9" x2="431.55" y2="603.1" stroke="#000" stroke-width="1.15"/>
<line x1="437.99" y1="604.9" x2="437.99" y2="603.1" stroke="#000" stroke-width="1.15"/>
<line x1="442.56" y1="604.9" x2="442.56" y2="603.1" stroke="#000" stroke-width="1.15"/>
<line x1="446.1" y1="604.9" x2="446.1" y2="603.1" stroke="#000" stroke-width="1.15"/>
<line x1="448.99" y1="604.9" x2="448.99" y2="603.1" stroke="#000" stroke-width="1.15"/>
<line x1="451.44" y1="604.9" x2="451.44" y2="603.1" stroke="#000" stroke-width="1.15"/>
<line x1="453.56" y1="604.9" x2="453.56" y2="603.1" stroke="#000" stroke-width="1.15"/>
<line x1="455.43" y1="604.9" x2="455.43" y2="603.1" stroke="#000" stroke-width="1.15"/>
<line x1="457.1" y1="604.9" x2="457.1" y2="601.7" stroke="#000" stroke-width="1.15"/>
<line x1="468.1" y1="604.9" x2="468.1" y2="603.1" stroke="#000" stroke-width="1.15"/>
<line x1="474.54" y1="604.9" x2="474.54" y2="603.1" stroke="#000" stroke-width="1.15"/>
<line x1="479.11" y1="604.9" x2="479.11" y2="603.1" stroke="#000" stroke-width="1.15"/>
<line x1="482.65" y1="604.9" x2="482.65" y2="603.1" stroke="#000" stroke-width="1.15"/>
<line x1="485.54" y1="604.9" x2="485.54" y2="603.1" stroke="#000" stroke-width="1.15"/>
<line x1="487.99" y1="604.9" x2="487.99" y2="603.1" stroke="#000" stroke-width="1.15"/>
<line x1="490.11" y1="604.9" x2="490.11" y2="603.1" stroke="#000" stroke-width="1.15"/>
<line x1="491.98" y1="604.9" x2="491.98" y2="603.1" stroke="#000" stroke-width="1.15"/>
<line x1="493.65" y1="604.9" x2="493.65" y2="601.7" stroke="#000" stroke-width="1.15"/>
<line x1="504.65" y1="604.9" x2="504.65" y2="603.1" stroke="#000" stroke-width="1.15"/>
<line x1="511.09" y1="604.9" x2="511.09" y2="603.1" stroke="#000" stroke-width="1.15"/>
<line x1="515.66" y1="604.9" x2="515.66" y2="603.1" stroke="#000" stroke-width="1.15"/>
<line x1="519.2" y1="604.9" x2="519.2" y2="603.1" stroke="#000" stroke-width="1.15"/>
<line x1="522.09" y1="604.9" x2="522.09" y2="603.1" stroke="#000" stroke-width="1.15"/>
<line x1="524.54" y1="604.9" x2="524.54" y2="603.1" stroke="#000" stroke-width="1.15"/>
<line x1="526.66" y1="604.9" x2="526.66" y2="603.1" stroke="#000" stroke-width="1.15"/>
<line x1="528.53" y1="604.9" x2="528.53" y2="603.1" stroke="#000" stroke-width="1.15"/>
<line x1="530.2" y1="604.9" x2="530.2" y2="601.7" stroke="#000" stroke-width="1.15"/>
<line x1="339" y1="604.9" x2="342.2" y2="604.9" stroke="#000" stroke-width="1.15"/>
<line x1="339" y1="595.9" x2="340.8" y2="595.9" stroke="#000" stroke-width="1.15"/>
<line x1="339" y1="590.63" x2="340.8" y2="590.63" stroke="#000" stroke-width="1.15"/>
<line x1="339" y1="586.9" x2="340.8" y2="586.9" stroke="#000" stroke-width="1.15"/>
<line x1="339" y1="584" x2="340.8" y2="584" stroke="#000" stroke-width="1.15"/>
<line x1="339" y1="581.63" x2="340.8" y2="581.63" stroke="#000" stroke-width="1.15"/>
<line x1="339" y1="579.63" x2="340.8" y2="579.63" stroke="#000" stroke-width="1.15"/>
<line x1="339" y1="577.9" x2="340.8" y2="577.9" stroke="#000" stroke-width="1.15"/>
<line x1="339" y1="576.37" x2="340.8" y2="576.37" stroke="#000" stroke-width="1.15"/>
<line x1="339" y1="575" x2="342.2" y2="575" stroke="#000" stroke-width="1.15"/>
<line x1="339" y1="566" x2="340.8" y2="566" stroke="#000" stroke-width="1.15"/>
<line x1="339" y1="560.73" x2="340.8" y2="560.73" stroke="#000" stroke-width="1.15"/>
<line x1="339" y1="557" x2="340.8" y2="557" stroke="#000" stroke-width="1.15"/>
<line x1="339" y1="554.1" x2="340.8" y2="554.1" stroke="#000" stroke-width="1.15"/>
<line x1="339" y1="551.73" x2="340.8" y2="551.73" stroke="#000" stroke-width="1.15"/>
<line x1="339" y1="549.73" x2="340.8" y2="549.73" stroke="#000" stroke-width="1.15"/>
<line x1="339" y1="548" x2="340.8" y2="548" stroke="#000" stroke-width="1.15"/>
<line x1="339" y1="546.47" x2="340.8" y2="546.47" stroke="#000" stroke-width="1.15"/>
<line x1="339" y1="545.1" x2="342.2" y2="545.1" stroke="#000" stroke-width="1.15"/>
<line x1="339" y1="536.1" x2="340.8" y2="536.1" stroke="#000" stroke-width="1.15"/>
<line x1="339" y1="530.83" x2="340.8" y2="530.83" stroke="#000" stroke-width="1.15"/>
<line x1="339" y1="527.1" x2="340.8" y2="527.1" stroke="#000" stroke-width="1.15"/>
<line x1="339" y1="524.2" x2="340.8" y2="524.2" stroke="#000" stroke-width="1.15"/>
<line x1="339" y1="521.83" x2="340.8" y2="521.83" stroke="#000" stroke-width="1.15"/>
<line x1="339" y1="519.83" x2="340.8" y2="519.83" stroke="#000" stroke-width="1.15"/>
<line x1="339" y1="518.1" x2="340.8" y2="518.1" stroke="#000" stroke-width="1.15"/>
<line x1="339" y1="516.57" x2="340.8" y2="516.57" stroke="#000" stroke-width="1.15"/>
<line x1="339" y1="515.2" x2="342.2" y2="515.2" stroke="#000" stroke-width="1.15"/>
<line x1="339" y1="506.2" x2="340.8" y2="506.2" stroke="#000" stroke-width="1.15"/>
<line x1="339" y1="500.93" x2="340.8" y2="500.93" stroke="#000" stroke-width="1.15"/>
<line x1="339" y1="497.2" x2="340.8" y2="497.2" stroke="#000" stroke-width="1.15"/>
<line x1="339" y1="494.3" x2="340.8" y2="494.3" stroke="#000" stroke-width="1.15"/>
<line x1="339" y1="491.93" x2="340.8" y2="491.93" stroke="#000" stroke-width="1.15"/>
<line x1="339" y1="489.93" x2="340.8" y2="489.93" stroke="#000" stroke-width="1.15"/>
<line x1="339" y1="488.2" x2="340.8" y2="488.2" stroke="#000" stroke-width="1.15"/>
<line x1="339" y1="486.67" x2="340.8" y2="486.67" stroke="#000" stroke-width="1.15"/>
<line x1="339" y1="485.3" x2="342.2" y2="485.3" stroke="#000" stroke-width="1.15"/>
<line x1="339" y1="476.3" x2="340.8" y2="476.3" stroke="#000" stroke-width="1.15"/>
<line x1="339" y1="471.03" x2="340.8" y2="471.03" stroke="#000" stroke-width="1.15"/>
<line x1="339" y1="467.3" x2="340.8" y2="467.3" stroke="#000" stroke-width="1.15"/>
<line x1="339" y1="464.4" x2="340.8" y2="464.4" stroke="#000" stroke-width="1.15"/>
<line x1="339" y1="462.03" x2="340.8" y2="462.03" stroke="#000" stroke-width="1.15"/>
<line x1="339" y1="460.03" x2="340.8" y2="460.03" stroke="#000" stroke-width="1.15"/>
<line x1="339" y1="458.3" x2="340.8" y2="458.3" stroke="#000" stroke-width="1.15"/>
<line x1="339" y1="456.77" x2="340.8" y2="456.77" stroke="#000" stroke-width="1.15"/>
<rect x="339" y="455.5" width="202.3" height="149.4" fill="none" stroke="#000" stroke-width="1.4"/>
<text transform="translate(332.4,459.6) scale(1,1.06)" font-size="11" text-anchor="end" font-family="Liberation Sans" font-weight="bold">10<tspan font-size="8" dy="-5.6">1</tspan></text>
<text transform="translate(333,489.7) scale(1,1.06)" font-size="11" text-anchor="end" font-family="Liberation Sans" font-weight="bold">10<tspan font-size="8" dy="-5.6">0</tspan></text>
<text transform="translate(333.6,519.6) scale(1,1.06)" font-size="11" text-anchor="end" font-family="Liberation Sans" font-weight="bold">10<tspan font-size="8" dy="-5.6">-1</tspan></text>
<text transform="translate(333.6,550.7) scale(1,1.06)" font-size="11" text-anchor="end" font-family="Liberation Sans" font-weight="bold">10<tspan font-size="8" dy="-5.6">-2</tspan></text>
<text transform="translate(334,580.6) scale(1,1.06)" font-size="11" text-anchor="end" font-family="Liberation Sans" font-weight="bold">10<tspan font-size="8" dy="-5.6">-3</tspan></text>
<text transform="translate(334.8,610.2) scale(1,1.06)" font-size="11" text-anchor="end" font-family="Liberation Sans" font-weight="bold">10<tspan font-size="8" dy="-5.6">-4</tspan></text>
<text transform="translate(348.4,622.4) scale(1,1.06)" font-size="11" text-anchor="middle" font-family="Liberation Sans" font-weight="bold">10<tspan font-size="8" dy="-5.6">4</tspan></text>
<text transform="translate(385.02,622.4) scale(1,1.06)" font-size="11" text-anchor="middle" font-family="Liberation Sans" font-weight="bold">10<tspan font-size="8" dy="-5.6">5</tspan></text>
<text transform="translate(421.64,622.4) scale(1,1.06)" font-size="11" text-anchor="middle" font-family="Liberation Sans" font-weight="bold">10<tspan font-size="8" dy="-5.6">6</tspan></text>
<text transform="translate(458.26,622.4) scale(1,1.06)" font-size="11" text-anchor="middle" font-family="Liberation Sans" font-weight="bold">10<tspan font-size="8" dy="-5.6">7</tspan></text>
<text transform="translate(494.88,622.4) scale(1,1.06)" font-size="11" text-anchor="middle" font-family="Liberation Sans" font-weight="bold">10<tspan font-size="8" dy="-5.6">8</tspan></text>
<text transform="translate(531.5,622.4) scale(1,1.06)" font-size="11" text-anchor="middle" font-family="Liberation Sans" font-weight="bold">10<tspan font-size="8" dy="-5.6">9</tspan></text>
<text transform="translate(437.4,641.4) scale(1,1.0)" font-size="14" text-anchor="middle" font-family="Liberation Sans" font-weight="bold" >Resistor <tspan font-weight="normal">(</tspan><tspan font-weight="normal">Ω</tspan><tspan font-weight="normal">)</tspan></text>
<text transform="translate(309.3,527) rotate(-90)" x="0" y="0" font-size="14.3" text-anchor="middle" font-family="Liberation Sans" font-weight="bold">Current <tspan font-weight="normal">(</tspan>mA<tspan font-weight="normal">)</tspan></text>
<line x1="351.82" y1="554.53" x2="379.63" y2="557.87" stroke="#000" stroke-width="1.35"/>
<line x1="388.4" y1="558.57" x2="416.15" y2="559.63" stroke="#000" stroke-width="1.35"/>
<line x1="424.93" y1="560.17" x2="452.72" y2="562.53" stroke="#000" stroke-width="1.35"/>
<line x1="461.2" y1="564.5" x2="489.55" y2="575.6" stroke="#000" stroke-width="1.35"/>
<line x1="497.49" y1="579.35" x2="515.36" y2="589.35" stroke="#000" stroke-width="1.35"/>
<line x1="523.45" y1="592.62" x2="525.95" y2="593.28" stroke="#000" stroke-width="1.35"/>
<rect x="344.75" y="551.3" width="5.4" height="5.4" fill="#000"/>
<rect x="381.3" y="555.7" width="5.4" height="5.4" fill="#000"/>
<rect x="417.85" y="557.1" width="5.4" height="5.4" fill="#000"/>
<rect x="454.4" y="560.2" width="5.4" height="5.4" fill="#000"/>
<rect x="490.95" y="574.5" width="5.4" height="5.4" fill="#000"/>
<rect x="516.5" y="588.8" width="5.4" height="5.4" fill="#000"/>
<rect x="527.5" y="591.7" width="5.4" height="5.4" fill="#000"/>
<line x1="351.07" y1="474" x2="380.38" y2="494.3" stroke="#ff0000" stroke-width="1.35"/>
<line x1="387.41" y1="499.57" x2="417.14" y2="523.73" stroke="#ff0000" stroke-width="1.35"/>
<line x1="424.12" y1="529.07" x2="453.53" y2="550.23" stroke="#ff0000" stroke-width="1.35"/>
<line x1="460.57" y1="555.51" x2="490.18" y2="578.69" stroke="#ff0000" stroke-width="1.35"/>
<circle cx="347.45" cy="471.5" r="3.3" fill="#ff0000"/>
<circle cx="384" cy="496.8" r="3.3" fill="#ff0000"/>
<circle cx="420.55" cy="526.5" r="3.3" fill="#ff0000"/>
<circle cx="457.1" cy="552.8" r="3.3" fill="#ff0000"/>
<circle cx="493.65" cy="581.4" r="3.3" fill="#ff0000"/>
<line x1="351.16" y1="478.26" x2="380.29" y2="496.74" stroke="#0000ff" stroke-width="1.35"/>
<line x1="387.42" y1="501.86" x2="417.13" y2="525.84" stroke="#0000ff" stroke-width="1.35"/>
<line x1="424.02" y1="531.31" x2="453.63" y2="554.49" stroke="#0000ff" stroke-width="1.35"/>
<line x1="460.57" y1="559.91" x2="490.18" y2="583.09" stroke="#0000ff" stroke-width="1.35"/>
<polygon points="343.65,479.2 351.25,479.2 347.45,472.6" fill="#0000ff" stroke="none"/>
<polygon points="380.2,502.4 387.8,502.4 384,495.8" fill="#0000ff" stroke="none"/>
<polygon points="416.75,531.9 424.35,531.9 420.55,525.3" fill="#0000ff" stroke="none"/>
<polygon points="453.3,560.5 460.9,560.5 457.1,553.9" fill="#0000ff" stroke="none"/>
<polygon points="489.85,589.1 497.45,589.1 493.65,582.5" fill="#0000ff" stroke="none"/>
<line x1="350.95" y1="486.27" x2="380.5" y2="508.83" stroke="#008080" stroke-width="1.35"/>
<line x1="387.48" y1="514.19" x2="417.07" y2="537.11" stroke="#008080" stroke-width="1.35"/>
<line x1="423.99" y1="542.54" x2="453.66" y2="566.16" stroke="#008080" stroke-width="1.35"/>
<line x1="460.51" y1="571.69" x2="490.24" y2="596.01" stroke="#008080" stroke-width="1.35"/>
<polygon points="343.65,480.3 351.25,480.3 347.45,486.9" fill="#008080" stroke="none"/>
<polygon points="380.2,508.2 387.8,508.2 384,514.8" fill="#008080" stroke="none"/>
<polygon points="416.75,536.5 424.35,536.5 420.55,543.1" fill="#008080" stroke="none"/>
<polygon points="453.3,565.6 460.9,565.6 457.1,572.2" fill="#008080" stroke="none"/>
<polygon points="489.85,595.5 497.45,595.5 493.65,602.1" fill="#008080" stroke="none"/>
<line x1="480.7" y1="462.7" x2="488.2" y2="462.7" stroke="#000" stroke-width="1.3"/>
<line x1="494.8" y1="462.7" x2="502.3" y2="462.7" stroke="#000" stroke-width="1.3"/>
<rect x="488.8" y="460" width="5.4" height="5.4" fill="#000"/>
<text transform="translate(511.4,465.54) scale(1,1.06)" font-size="11.5" text-anchor="start" font-family="Liberation Sans" font-weight="bold" >T0</text>
<line x1="480.7" y1="474.4" x2="488.2" y2="474.4" stroke="#ff0000" stroke-width="1.3"/>
<line x1="494.8" y1="474.4" x2="502.3" y2="474.4" stroke="#ff0000" stroke-width="1.3"/>
<circle cx="491.5" cy="474.4" r="3.3" fill="#ff0000"/>
<text transform="translate(511.4,479.34) scale(1,1.06)" font-size="11.5" text-anchor="start" font-family="Liberation Sans" font-weight="bold" >T2</text>
<line x1="480.7" y1="485.6" x2="488.2" y2="485.6" stroke="#0000ff" stroke-width="1.3"/>
<line x1="494.8" y1="485.6" x2="502.3" y2="485.6" stroke="#0000ff" stroke-width="1.3"/>
<polygon points="487.7,488.1 495.3,488.1 491.5,481.5" fill="#0000ff" stroke="none"/>
<text transform="translate(511.4,493.64) scale(1,1.06)" font-size="11.5" text-anchor="start" font-family="Liberation Sans" font-weight="bold" >T4</text>
<line x1="480.7" y1="497.8" x2="488.2" y2="497.8" stroke="#008080" stroke-width="1.3"/>
<line x1="494.8" y1="497.8" x2="502.3" y2="497.8" stroke="#008080" stroke-width="1.3"/>
<polygon points="487.7,495.3 495.3,495.3 491.5,501.9" fill="#008080" stroke="none"/>
<text transform="translate(511.4,507.94) scale(1,1.06)" font-size="11.5" text-anchor="start" font-family="Liberation Sans" font-weight="bold" >T8</text>
</svg>
</body></html>
